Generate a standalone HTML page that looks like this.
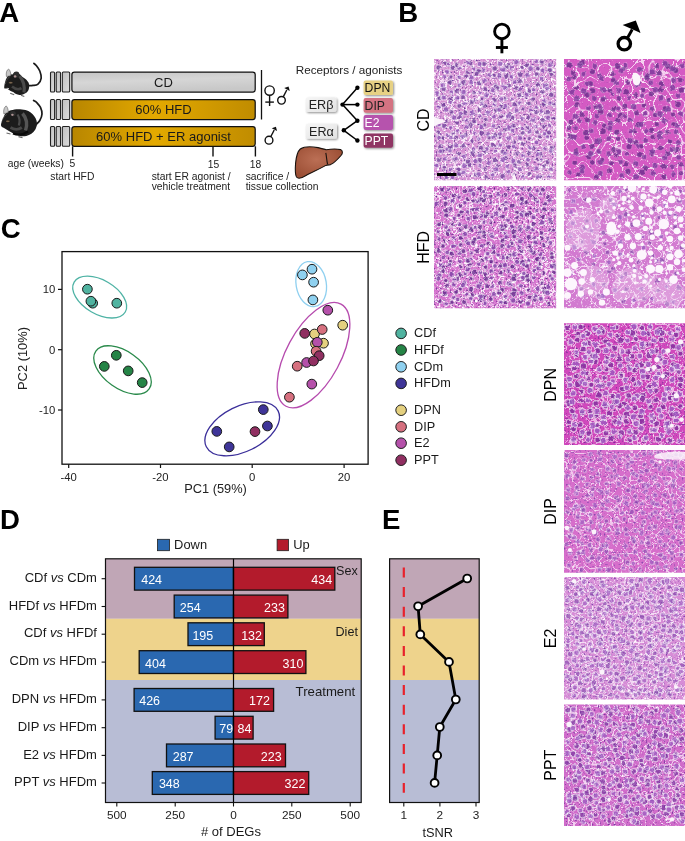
<!DOCTYPE html>
<html><head><meta charset="utf-8"><title>Figure</title>
<style>html,body{margin:0;padding:0;background:#fff;}svg{display:block;}text{font-family:"Liberation Sans",Arial,sans-serif;}</style>
</head><body>
<svg width="685" height="841" viewBox="0 0 685 841">
<defs>
<linearGradient id="gGold" x1="0" x2="1" y1="0" y2="0"><stop offset="0" stop-color="#b88600"/><stop offset="0.45" stop-color="#e3a900"/><stop offset="1" stop-color="#c08c00"/></linearGradient>
<linearGradient id="gGray" x1="0" x2="0.3" y1="0" y2="1"><stop offset="0" stop-color="#c4c4c4"/><stop offset="0.5" stop-color="#d6d6d6"/><stop offset="1" stop-color="#c8c8c8"/></linearGradient>
<linearGradient id="gGraySm" x1="0" x2="1" y1="0" y2="1"><stop offset="0" stop-color="#c0c0c0"/><stop offset="1" stop-color="#dcdcdc"/></linearGradient>
<radialGradient id="gLiver" cx="0.45" cy="0.4" r="0.6"><stop offset="0" stop-color="#bb6f55"/><stop offset="1" stop-color="#9c4f35"/></radialGradient>
<filter id="shadow" x="-20%" y="-20%" width="150%" height="160%"><feGaussianBlur in="SourceAlpha" stdDeviation="0.8"/><feOffset dx="0.8" dy="1.2" result="o"/><feComponentTransfer><feFuncA type="linear" slope="0.45"/></feComponentTransfer><feMerge><feMergeNode/><feMergeNode in="SourceGraphic"/></feMerge></filter>
<linearGradient id="gBox" x1="0" x2="1" y1="0" y2="1"><stop offset="0" stop-color="#f6f6f6"/><stop offset="1" stop-color="#e2e2e2"/></linearGradient>
<filter id="hCDf" x="0" y="0" width="1" height="1" color-interpolation-filters="sRGB"><feFlood flood-color="#d48ed2" result="bg"/><feTurbulence type="fractalNoise" baseFrequency="0.55" numOctaves="2" seed="6" result="f0"/><feColorMatrix in="f0" type="matrix" values="0 0 0 0 1 0 0 0 0 0.96 0 0 0 0 1 0 0 1.4 0 -0.7" result="ff"/><feTurbulence type="turbulence" baseFrequency="0.15" numOctaves="1" seed="14" result="m0"/><feColorMatrix in="m0" type="matrix" values="0 0 0 0 1 0 0 0 0 0.97 0 0 0 0 1 -12 0 0 0 0.8" result="mm"/><feTurbulence type="fractalNoise" baseFrequency="0.32" numOctaves="2" seed="10" result="w0"/><feColorMatrix in="w0" type="matrix" values="0 0 0 0 1.000 0 0 0 0 1.000 0 0 0 0 1.000 0 5 0 0 -2.9" result="ww"/><feTurbulence type="fractalNoise" baseFrequency="0.5" numOctaves="2" seed="3" result="n0"/><feColorMatrix in="n0" type="matrix" values="0 0 0 0 0.424 0 0 0 0 0.220 0 0 0 0 0.596 5 0 0 0 -3.0" result="nn"/><feMerge><feMergeNode in="bg"/><feMergeNode in="ff"/><feMergeNode in="mm"/><feMergeNode in="ww"/><feMergeNode in="nn"/></feMerge></filter><clipPath id="cCDf"><rect x="434" y="59" width="122.2" height="121.3"/></clipPath><filter id="nCDf" x="-5%" y="-5%" width="110%" height="110%"><feTurbulence type="fractalNoise" baseFrequency="0.4" numOctaves="1" seed="8" result="t"/><feDisplacementMap in="SourceGraphic" in2="t" scale="3.5" xChannelSelector="R" yChannelSelector="G"/></filter><filter id="hCDm" x="0" y="0" width="1" height="1" color-interpolation-filters="sRGB"><feFlood flood-color="#d45ac3" result="bg"/><feTurbulence type="fractalNoise" baseFrequency="0.55" numOctaves="2" seed="8" result="f0"/><feColorMatrix in="f0" type="matrix" values="0 0 0 0 1 0 0 0 0 0.96 0 0 0 0 1 0 0 1.0 0 -0.7" result="ff"/><feTurbulence type="turbulence" baseFrequency="0.09" numOctaves="1" seed="16" result="m0"/><feColorMatrix in="m0" type="matrix" values="0 0 0 0 1 0 0 0 0 0.97 0 0 0 0 1 -12 0 0 0 0.75" result="mm"/><feTurbulence type="fractalNoise" baseFrequency="0.32" numOctaves="2" seed="12" result="w0"/><feColorMatrix in="w0" type="matrix" values="0 0 0 0 1.000 0 0 0 0 1.000 0 0 0 0 1.000 0 5 0 0 -3.4" result="ww"/><feTurbulence type="fractalNoise" baseFrequency="0.5" numOctaves="2" seed="5" result="n0"/><feColorMatrix in="n0" type="matrix" values="0 0 0 0 0.416 0 0 0 0 0.165 0 0 0 0 0.549 4 0 0 0 -2.8" result="nn"/><feMerge><feMergeNode in="bg"/><feMergeNode in="ff"/><feMergeNode in="mm"/><feMergeNode in="ww"/><feMergeNode in="nn"/></feMerge></filter><clipPath id="cCDm"><rect x="564" y="59" width="121.0" height="121.3"/></clipPath><filter id="nCDm" x="-5%" y="-5%" width="110%" height="110%"><feTurbulence type="fractalNoise" baseFrequency="0.4" numOctaves="1" seed="10" result="t"/><feDisplacementMap in="SourceGraphic" in2="t" scale="3.5" xChannelSelector="R" yChannelSelector="G"/></filter><filter id="hHFDf" x="0" y="0" width="1" height="1" color-interpolation-filters="sRGB"><feFlood flood-color="#d472cd" result="bg"/><feTurbulence type="fractalNoise" baseFrequency="0.55" numOctaves="2" seed="10" result="f0"/><feColorMatrix in="f0" type="matrix" values="0 0 0 0 1 0 0 0 0 0.96 0 0 0 0 1 0 0 1.4 0 -0.7" result="ff"/><feTurbulence type="turbulence" baseFrequency="0.15" numOctaves="1" seed="18" result="m0"/><feColorMatrix in="m0" type="matrix" values="0 0 0 0 1 0 0 0 0 0.97 0 0 0 0 1 -12 0 0 0 0.8" result="mm"/><feTurbulence type="fractalNoise" baseFrequency="0.32" numOctaves="2" seed="14" result="w0"/><feColorMatrix in="w0" type="matrix" values="0 0 0 0 1.000 0 0 0 0 1.000 0 0 0 0 1.000 0 5 0 0 -2.9" result="ww"/><feTurbulence type="fractalNoise" baseFrequency="0.5" numOctaves="2" seed="7" result="n0"/><feColorMatrix in="n0" type="matrix" values="0 0 0 0 0.392 0 0 0 0 0.157 0 0 0 0 0.549 5 0 0 0 -3.0" result="nn"/><feMerge><feMergeNode in="bg"/><feMergeNode in="ff"/><feMergeNode in="mm"/><feMergeNode in="ww"/><feMergeNode in="nn"/></feMerge></filter><clipPath id="cHFDf"><rect x="434" y="186" width="122.2" height="122.2"/></clipPath><filter id="nHFDf" x="-5%" y="-5%" width="110%" height="110%"><feTurbulence type="fractalNoise" baseFrequency="0.4" numOctaves="1" seed="12" result="t"/><feDisplacementMap in="SourceGraphic" in2="t" scale="3.5" xChannelSelector="R" yChannelSelector="G"/></filter><filter id="hHFDm" x="0" y="0" width="1" height="1" color-interpolation-filters="sRGB"><feFlood flood-color="#d27ad0" result="bg"/><feTurbulence type="fractalNoise" baseFrequency="0.55" numOctaves="2" seed="12" result="f0"/><feColorMatrix in="f0" type="matrix" values="0 0 0 0 1 0 0 0 0 0.96 0 0 0 0 1 0 0 1.2 0 -0.7" result="ff"/><feTurbulence type="turbulence" baseFrequency="0.12" numOctaves="1" seed="20" result="m0"/><feColorMatrix in="m0" type="matrix" values="0 0 0 0 1 0 0 0 0 0.97 0 0 0 0 1 -10 0 0 0 0.7" result="mm"/><feTurbulence type="fractalNoise" baseFrequency="0.32" numOctaves="2" seed="16" result="w0"/><feColorMatrix in="w0" type="matrix" values="0 0 0 0 1.000 0 0 0 0 1.000 0 0 0 0 1.000 0 5 0 0 -3.0" result="ww"/><feTurbulence type="fractalNoise" baseFrequency="0.5" numOctaves="2" seed="9" result="n0"/><feColorMatrix in="n0" type="matrix" values="0 0 0 0 0.541 0 0 0 0 0.282 0 0 0 0 0.675 5 0 0 0 -99" result="nn"/><feMerge><feMergeNode in="bg"/><feMergeNode in="ff"/><feMergeNode in="mm"/><feMergeNode in="ww"/><feMergeNode in="nn"/></feMerge></filter><clipPath id="cHFDm"><rect x="564" y="186" width="121.0" height="122.2"/></clipPath><filter id="nHFDm" x="-5%" y="-5%" width="110%" height="110%"><feTurbulence type="fractalNoise" baseFrequency="0.4" numOctaves="1" seed="14" result="t"/><feDisplacementMap in="SourceGraphic" in2="t" scale="3.5" xChannelSelector="R" yChannelSelector="G"/></filter><filter id="hDPN" x="0" y="0" width="1" height="1" color-interpolation-filters="sRGB"><feFlood flood-color="#d048bc" result="bg"/><feTurbulence type="fractalNoise" baseFrequency="0.55" numOctaves="2" seed="14" result="f0"/><feColorMatrix in="f0" type="matrix" values="0 0 0 0 1 0 0 0 0 0.96 0 0 0 0 1 0 0 1.0 0 -0.7" result="ff"/><feTurbulence type="turbulence" baseFrequency="0.12" numOctaves="1" seed="22" result="m0"/><feColorMatrix in="m0" type="matrix" values="0 0 0 0 1 0 0 0 0 0.97 0 0 0 0 1 -10 0 0 0 0.6" result="mm"/><feTurbulence type="fractalNoise" baseFrequency="0.32" numOctaves="2" seed="18" result="w0"/><feColorMatrix in="w0" type="matrix" values="0 0 0 0 1.000 0 0 0 0 1.000 0 0 0 0 1.000 0 5 0 0 -3.3" result="ww"/><feTurbulence type="fractalNoise" baseFrequency="0.5" numOctaves="2" seed="11" result="n0"/><feColorMatrix in="n0" type="matrix" values="0 0 0 0 0.486 0 0 0 0 0.180 0 0 0 0 0.612 5 0 0 0 -3.0" result="nn"/><feMerge><feMergeNode in="bg"/><feMergeNode in="ff"/><feMergeNode in="mm"/><feMergeNode in="ww"/><feMergeNode in="nn"/></feMerge></filter><clipPath id="cDPN"><rect x="564" y="323.3" width="121.0" height="121.8"/></clipPath><filter id="nDPN" x="-5%" y="-5%" width="110%" height="110%"><feTurbulence type="fractalNoise" baseFrequency="0.4" numOctaves="1" seed="16" result="t"/><feDisplacementMap in="SourceGraphic" in2="t" scale="3.5" xChannelSelector="R" yChannelSelector="G"/></filter><filter id="hDIP" x="0" y="0" width="1" height="1" color-interpolation-filters="sRGB"><feFlood flood-color="#d66ecb" result="bg"/><feTurbulence type="fractalNoise" baseFrequency="0.55" numOctaves="2" seed="16" result="f0"/><feColorMatrix in="f0" type="matrix" values="0 0 0 0 1 0 0 0 0 0.96 0 0 0 0 1 0 0 1.0 0 -0.7" result="ff"/><feTurbulence type="turbulence" baseFrequency="0.13" numOctaves="1" seed="24" result="m0"/><feColorMatrix in="m0" type="matrix" values="0 0 0 0 1 0 0 0 0 0.97 0 0 0 0 1 -10 0 0 0 0.65" result="mm"/><feTurbulence type="fractalNoise" baseFrequency="0.32" numOctaves="2" seed="20" result="w0"/><feColorMatrix in="w0" type="matrix" values="0 0 0 0 1.000 0 0 0 0 1.000 0 0 0 0 1.000 0 5 0 0 -3.4" result="ww"/><feTurbulence type="fractalNoise" baseFrequency="0.5" numOctaves="2" seed="13" result="n0"/><feColorMatrix in="n0" type="matrix" values="0 0 0 0 0.541 0 0 0 0 0.290 0 0 0 0 0.690 5 0 0 0 -3.0" result="nn"/><feMerge><feMergeNode in="bg"/><feMergeNode in="ff"/><feMergeNode in="mm"/><feMergeNode in="ww"/><feMergeNode in="nn"/></feMerge></filter><clipPath id="cDIP"><rect x="564" y="450" width="121.0" height="122.7"/></clipPath><filter id="nDIP" x="-5%" y="-5%" width="110%" height="110%"><feTurbulence type="fractalNoise" baseFrequency="0.4" numOctaves="1" seed="18" result="t"/><feDisplacementMap in="SourceGraphic" in2="t" scale="3.5" xChannelSelector="R" yChannelSelector="G"/></filter><filter id="hE2" x="0" y="0" width="1" height="1" color-interpolation-filters="sRGB"><feFlood flood-color="#d68cd6" result="bg"/><feTurbulence type="fractalNoise" baseFrequency="0.55" numOctaves="2" seed="18" result="f0"/><feColorMatrix in="f0" type="matrix" values="0 0 0 0 1 0 0 0 0 0.96 0 0 0 0 1 0 0 1.2 0 -0.7" result="ff"/><feTurbulence type="turbulence" baseFrequency="0.14" numOctaves="1" seed="26" result="m0"/><feColorMatrix in="m0" type="matrix" values="0 0 0 0 1 0 0 0 0 0.97 0 0 0 0 1 -11 0 0 0 0.7" result="mm"/><feTurbulence type="fractalNoise" baseFrequency="0.32" numOctaves="2" seed="22" result="w0"/><feColorMatrix in="w0" type="matrix" values="0 0 0 0 1.000 0 0 0 0 1.000 0 0 0 0 1.000 0 5 0 0 -3.1" result="ww"/><feTurbulence type="fractalNoise" baseFrequency="0.5" numOctaves="2" seed="15" result="n0"/><feColorMatrix in="n0" type="matrix" values="0 0 0 0 0.518 0 0 0 0 0.282 0 0 0 0 0.675 5 0 0 0 -3.0" result="nn"/><feMerge><feMergeNode in="bg"/><feMergeNode in="ff"/><feMergeNode in="mm"/><feMergeNode in="ww"/><feMergeNode in="nn"/></feMerge></filter><clipPath id="cE2"><rect x="564" y="577.1" width="121.0" height="122.5"/></clipPath><filter id="nE2" x="-5%" y="-5%" width="110%" height="110%"><feTurbulence type="fractalNoise" baseFrequency="0.4" numOctaves="1" seed="20" result="t"/><feDisplacementMap in="SourceGraphic" in2="t" scale="3.5" xChannelSelector="R" yChannelSelector="G"/></filter><filter id="hPPT" x="0" y="0" width="1" height="1" color-interpolation-filters="sRGB"><feFlood flood-color="#d06cca" result="bg"/><feTurbulence type="fractalNoise" baseFrequency="0.55" numOctaves="2" seed="20" result="f0"/><feColorMatrix in="f0" type="matrix" values="0 0 0 0 1 0 0 0 0 0.96 0 0 0 0 1 0 0 1.1 0 -0.7" result="ff"/><feTurbulence type="turbulence" baseFrequency="0.13" numOctaves="1" seed="28" result="m0"/><feColorMatrix in="m0" type="matrix" values="0 0 0 0 1 0 0 0 0 0.97 0 0 0 0 1 -11 0 0 0 0.7" result="mm"/><feTurbulence type="fractalNoise" baseFrequency="0.32" numOctaves="2" seed="24" result="w0"/><feColorMatrix in="w0" type="matrix" values="0 0 0 0 1.000 0 0 0 0 1.000 0 0 0 0 1.000 0 5 0 0 -3.2" result="ww"/><feTurbulence type="fractalNoise" baseFrequency="0.5" numOctaves="2" seed="17" result="n0"/><feColorMatrix in="n0" type="matrix" values="0 0 0 0 0.478 0 0 0 0 0.212 0 0 0 0 0.627 5 0 0 0 -3.0" result="nn"/><feMerge><feMergeNode in="bg"/><feMergeNode in="ff"/><feMergeNode in="mm"/><feMergeNode in="ww"/><feMergeNode in="nn"/></feMerge></filter><clipPath id="cPPT"><rect x="564" y="704.4" width="121.0" height="121.6"/></clipPath><filter id="nPPT" x="-5%" y="-5%" width="110%" height="110%"><feTurbulence type="fractalNoise" baseFrequency="0.4" numOctaves="1" seed="22" result="t"/><feDisplacementMap in="SourceGraphic" in2="t" scale="3.5" xChannelSelector="R" yChannelSelector="G"/></filter><filter id="foam" x="-20%" y="-20%" width="140%" height="140%"><feTurbulence type="fractalNoise" baseFrequency="0.08" numOctaves="2" seed="4" result="t"/><feDisplacementMap in="SourceGraphic" in2="t" scale="14" xChannelSelector="R" yChannelSelector="G"/></filter>
</defs>
<rect width="685" height="841" fill="#fff"/>
<text x="-0.8" y="21.9" font-size="27.6" text-anchor="start" fill="#000" font-weight="bold" >A</text>
<text x="398.2" y="21.9" font-size="27.6" text-anchor="start" fill="#000" font-weight="bold" >B</text>
<text x="0.7" y="237.9" font-size="27.6" text-anchor="start" fill="#000" font-weight="bold" >C</text>
<text x="0.1" y="528.9" font-size="27.6" text-anchor="start" fill="#000" font-weight="bold" >D</text>
<text x="381.9" y="528.9" font-size="27.6" text-anchor="start" fill="#000" font-weight="bold" >E</text>
<rect x="50.5" y="72" width="4.1" height="20" rx="1" fill="url(#gGraySm)" stroke="#222" stroke-width="1.1"/>
<rect x="56.2" y="72" width="4.3" height="20" rx="1" fill="url(#gGraySm)" stroke="#222" stroke-width="1.1"/>
<rect x="62.3" y="72" width="7.4" height="20" rx="1" fill="url(#gGraySm)" stroke="#222" stroke-width="1.1"/>
<rect x="71.9" y="72" width="183.3" height="20" rx="2.5" fill="url(#gGray)" stroke="#111" stroke-width="1.25"/>
<text x="163.5" y="86.6" font-size="13" text-anchor="middle" fill="#1a1a1a" >CD</text>
<rect x="50.5" y="99.5" width="4.1" height="20.0" rx="1" fill="url(#gGraySm)" stroke="#222" stroke-width="1.1"/>
<rect x="56.2" y="99.5" width="4.3" height="20.0" rx="1" fill="url(#gGraySm)" stroke="#222" stroke-width="1.1"/>
<rect x="62.3" y="99.5" width="7.4" height="20.0" rx="1" fill="url(#gGraySm)" stroke="#222" stroke-width="1.1"/>
<rect x="71.9" y="99.5" width="183.3" height="20.0" rx="2.5" fill="url(#gGold)" stroke="#111" stroke-width="1.25"/>
<text x="163.5" y="114.1" font-size="13" text-anchor="middle" fill="#1a1a1a" >60% HFD</text>
<rect x="50.5" y="126.5" width="4.1" height="19.80000000000001" rx="1" fill="url(#gGraySm)" stroke="#222" stroke-width="1.1"/>
<rect x="56.2" y="126.5" width="4.3" height="19.80000000000001" rx="1" fill="url(#gGraySm)" stroke="#222" stroke-width="1.1"/>
<rect x="62.3" y="126.5" width="7.4" height="19.80000000000001" rx="1" fill="url(#gGraySm)" stroke="#222" stroke-width="1.1"/>
<rect x="71.9" y="126.5" width="183.3" height="19.80000000000001" rx="2.5" fill="url(#gGold)" stroke="#111" stroke-width="1.25"/>
<text x="163.5" y="141.0" font-size="13" text-anchor="middle" fill="#1a1a1a" >60% HFD + ER agonist</text>
<line x1="72.6" y1="146.3" x2="72.6" y2="156.5" stroke="#111" stroke-width="1.4"/>
<line x1="213" y1="146.3" x2="213" y2="156.5" stroke="#111" stroke-width="1.4"/>
<line x1="255.4" y1="146.3" x2="255.4" y2="156.5" stroke="#111" stroke-width="1.4"/>
<text x="7.8" y="167.2" font-size="10.3" text-anchor="start" fill="#222" >age (weeks)</text>
<text x="72.4" y="167.2" font-size="10.3" text-anchor="middle" fill="#222" >5</text>
<text x="50.3" y="179.9" font-size="10.3" text-anchor="start" fill="#222" >start HFD</text>
<text x="213.6" y="168.3" font-size="10.3" text-anchor="middle" fill="#222" >15</text>
<text x="255.6" y="168.3" font-size="10.3" text-anchor="middle" fill="#222" >18</text>
<text x="151.7" y="180.0" font-size="10.3" text-anchor="start" fill="#222" >start ER agonist /</text>
<text x="151.7" y="190.2" font-size="10.3" text-anchor="start" fill="#222" >vehicle treatment</text>
<text x="245.7" y="180.0" font-size="10.3" text-anchor="start" fill="#222" >sacrifice /</text>
<text x="245.7" y="190.2" font-size="10.3" text-anchor="start" fill="#222" >tissue collection</text>
<line x1="261.5" y1="70" x2="261.5" y2="119.5" stroke="#111" stroke-width="1.3"/>
<circle cx="269.6" cy="90.6" r="4.7" fill="none" stroke="#111" stroke-width="1.4"/>
<line x1="269.6" y1="95.3" x2="269.6" y2="106" stroke="#111" stroke-width="1.4"/>
<line x1="265.3" y1="102.1" x2="273.90000000000003" y2="102.1" stroke="#111" stroke-width="1.4"/>
<circle cx="281.5" cy="100.3" r="3.8" fill="none" stroke="#111" stroke-width="1.4"/>
<line x1="283.23" y1="96.91" x2="286.77" y2="89.96" stroke="#111" stroke-width="1.4"/>
<polygon points="288.58,86.40 289.76,90.93 284.23,88.11" fill="#111"/>
<circle cx="269" cy="140.2" r="3.9" fill="none" stroke="#111" stroke-width="1.4"/>
<line x1="270.77" y1="136.73" x2="274.18" y2="130.04" stroke="#111" stroke-width="1.4"/>
<polygon points="275.90,126.66 277.08,130.96 271.73,128.24" fill="#111"/>
<text x="295.8" y="73.9" font-size="11.7" text-anchor="start" fill="#222" >Receptors / agonists</text>
<rect x="305.8" y="97.6" width="30.599999999999966" height="14.400000000000006" rx="2" fill="url(#gBox)" filter="url(#shadow)"/>
<text x="321.1" y="109.2" font-size="12.6" text-anchor="middle" fill="#222" >ERβ</text>
<rect x="305.8" y="123.8" width="31.19999999999999" height="14.899999999999991" rx="2" fill="url(#gBox)" filter="url(#shadow)"/>
<text x="321.4" y="135.65" font-size="12.6" text-anchor="middle" fill="#222" >ERα</text>
<rect x="363.6" y="80.4" width="29.399999999999977" height="14.5" rx="2" fill="#e7d184" filter="url(#shadow)"/>
<text x="364.6" y="92.05000000000001" font-size="12.2" text-anchor="start" fill="#111" >DPN</text>
<rect x="363.6" y="97.9" width="29.399999999999977" height="14.899999999999991" rx="2" fill="#d47382" filter="url(#shadow)"/>
<text x="364.6" y="109.75" font-size="12.2" text-anchor="start" fill="#222" >DIP</text>
<rect x="363.6" y="115" width="29.399999999999977" height="15" rx="2" fill="#b652ad" filter="url(#shadow)"/>
<text x="364.6" y="126.9" font-size="12.2" text-anchor="start" fill="#fff" >E2</text>
<rect x="363.6" y="133.5" width="29.399999999999977" height="14.300000000000011" rx="2" fill="#8f3464" filter="url(#shadow)"/>
<text x="364.6" y="145.05" font-size="12.2" text-anchor="start" fill="#fff" >PPT</text>
<line x1="342.5" y1="104.6" x2="357.4" y2="87.8" stroke="#000" stroke-width="1.5"/>
<line x1="342.5" y1="104.6" x2="357.4" y2="104.6" stroke="#000" stroke-width="1.5"/>
<line x1="342.5" y1="104.6" x2="357.4" y2="120.7" stroke="#000" stroke-width="1.5"/>
<line x1="343.8" y1="130.3" x2="357.4" y2="120.7" stroke="#000" stroke-width="1.5"/>
<line x1="343.8" y1="130.3" x2="357.4" y2="140.5" stroke="#000" stroke-width="1.5"/>
<circle cx="342.5" cy="104.6" r="2.2" fill="#000"/>
<circle cx="343.8" cy="130.3" r="2.2" fill="#000"/>
<circle cx="357.4" cy="87.8" r="2.2" fill="#000"/>
<circle cx="357.4" cy="104.6" r="2.2" fill="#000"/>
<circle cx="357.4" cy="120.7" r="2.2" fill="#000"/>
<circle cx="357.4" cy="140.5" r="2.2" fill="#000"/>
<path d="M300.3,149 C304,146.5 312,146.5 318,147.6 C322,148.4 324,149.2 326,149.7 C331,149 337,148.8 340.5,149.6 C343,150.6 342.8,153.5 341,155.5 C338,159 334,163 330.5,164.6 C328,165.3 326.8,165 325.8,165.4 C320,169 312,172 306,175.5 C302,178 298.5,179.5 296.5,177 C294.8,174 295.2,168 295.6,163 C296.2,157 297.5,151.5 300.3,149 Z" fill="url(#gLiver)" stroke="#1a120e" stroke-width="1.1"/>
<path d="M325.8,152.8 C326.6,156.5 326.6,160.5 327.6,164.3" fill="none" stroke="#1a120e" stroke-width="1.1"/>
<path d="M28.5,85.6 C29.2,85.6 31.4,85.7 33.0,85.4 C34.6,85.2 36.6,85.3 38.0,84.1 C39.4,82.9 40.9,80.4 41.2,78.2 C41.5,76.0 40.6,73.1 39.8,71.0 C39.0,68.9 37.5,67.1 36.5,65.8 C35.5,64.5 34.3,63.7 33.9,63.3 " fill="none" stroke="#1a1a1a" stroke-width="1.7" stroke-linecap="round"/><path d="M4.2,87.4 C4.2,86.3 4.6,83.6 5.1,81.9 C5.5,80.2 6.2,78.7 6.9,77.5 C7.6,76.3 8.5,75.5 9.5,75.0 C10.5,74.5 12.0,74.6 12.8,74.2 C13.7,73.8 13.4,72.4 14.6,72.4 C15.8,72.4 18.5,73.5 19.7,74.2 C20.9,74.9 20.9,75.6 21.9,76.4 C22.9,77.2 24.4,78.0 25.5,79.0 C26.6,80.0 27.9,81.4 28.5,82.6 C29.1,83.8 29.2,85.1 29.2,86.3 C29.2,87.5 29.0,88.8 28.5,89.9 C28.0,91.0 27.2,92.1 26.3,92.8 C25.4,93.5 24.4,93.9 23.4,94.3 C22.4,94.7 21.5,95.0 20.4,95.0 C19.3,95.0 17.8,94.6 16.8,94.3 C15.8,94.0 15.2,93.6 14.6,93.2 C14.0,92.8 13.8,92.5 13.1,92.1 C12.4,91.7 11.2,91.2 10.2,90.7 C9.2,90.2 8.2,89.2 7.3,88.8 C6.5,88.4 5.6,88.7 5.1,88.5 C4.6,88.3 4.2,88.5 4.2,87.4 Z" fill="#1c1c1c"/><path d="M6.4,76.5 C5.8,73 6.6,70 8.6,69 C10.2,70.2 11,73.5 10.8,75.8 Z" fill="#c8c8c8" stroke="#444" stroke-width="0.5"/><path d="M19.5,76 C23,80 25,86 24,92.5" fill="none" stroke="#4a4a4a" stroke-width="3.2"/><path d="M12,86.5 C15.5,89.5 18.5,90 21.5,88.2" fill="none" stroke="#444" stroke-width="2.6"/><ellipse cx="16.4" cy="74.6" rx="3.0" ry="3.2" fill="#2e2e2e"/><ellipse cx="15.1" cy="76.4" rx="1.3" ry="1.2" fill="#b09494"/><ellipse cx="10.7" cy="82.8" rx="2.1" ry="1.0" fill="#857058" stroke="#000" stroke-width="0.3"/><path d="M5.2,84 C6,81 7.5,78.5 9.8,76.5" fill="none" stroke="#888" stroke-width="0.6" stroke-dasharray="0.8 0.6"/><path d="M6.8,88.3 L9,88.6" stroke="#d8d8d8" stroke-width="0.9"/><path d="M10.2,93.2 L14.2,94.8 M21,95.2 L24.3,96.5" stroke="#6a6a6a" stroke-width="1.2"/>
<path d="M36.2,124.5 C36.8,123.8 38.8,122.2 39.8,120.5 C40.8,118.8 41.9,116.2 42.0,114.0 C42.1,111.8 41.4,109.4 40.5,107.4 C39.6,105.5 37.6,103.5 36.5,102.3 C35.4,101.1 34.1,100.8 33.6,100.5 " fill="none" stroke="#1a1a1a" stroke-width="1.7" stroke-linecap="round"/><path d="M1.1,125.7 C0.8,124.6 1.4,122.8 1.8,121.3 C2.2,119.8 2.9,118.2 3.6,116.9 C4.3,115.6 4.6,114.3 5.8,113.2 C7.0,112.1 8.8,111.0 10.9,110.3 C13.0,109.6 15.8,109.2 18.2,109.2 C20.6,109.2 23.4,109.5 25.5,110.0 C27.6,110.5 29.2,111.5 30.7,112.5 C32.2,113.5 33.3,114.9 34.3,116.2 C35.3,117.5 36.1,119.0 36.5,120.5 C36.9,122.0 37.1,123.3 36.9,124.9 C36.6,126.5 35.9,128.5 35.0,130.0 C34.1,131.5 32.9,132.7 31.4,133.7 C29.9,134.7 28.0,135.5 26.3,135.9 C24.6,136.3 22.8,136.4 21.2,136.2 C19.6,136.0 18.3,135.3 16.8,134.8 C15.3,134.3 14.0,133.8 12.4,133.0 C10.8,132.2 8.8,130.9 7.3,130.0 C5.8,129.1 4.6,128.5 3.6,127.8 C2.6,127.1 1.4,126.8 1.1,125.7 Z" fill="#1c1c1c"/><path d="M3.8,113.8 C3.2,110 4.2,107 6.2,105.9 C7.8,107.3 8.5,110.5 8.2,112.6 Z" fill="#c8c8c8" stroke="#444" stroke-width="0.5"/><path d="M22.5,113.5 C26.5,118 27.5,124.5 25.5,130.5" fill="none" stroke="#555" stroke-width="3.4"/><path d="M17.5,114.5 C19.8,118 20,122 18.8,125.5" fill="none" stroke="#4a4a4a" stroke-width="2.2"/><path d="M10.5,127.5 C14.5,130 18.5,129.8 21.8,127.5" fill="none" stroke="#484848" stroke-width="2.8"/><path d="M28,131.5 C24,134.5 18,135.5 13,133.5" fill="none" stroke="#0a0a0a" stroke-width="2.2"/><ellipse cx="13" cy="113.6" rx="2.8" ry="2.6" fill="#2e2e2e"/><ellipse cx="12.4" cy="114.8" rx="1.3" ry="1.1" fill="#b09494"/><ellipse cx="7.8" cy="121.3" rx="2.0" ry="0.95" fill="#857058" stroke="#000" stroke-width="0.3"/><path d="M1.8,121.5 C2.8,118.5 4.5,116 7,114.3" fill="none" stroke="#888" stroke-width="0.6" stroke-dasharray="0.8 0.6"/><path d="M6.5,133 L10.5,134 M18.5,136.7 L22.5,137.7" stroke="#6a6a6a" stroke-width="1.2"/>
<circle cx="501.9" cy="31.4" r="7.3" fill="none" stroke="#000" stroke-width="2.9"/>
<line x1="501.9" y1="38.699999999999996" x2="501.9" y2="53.3" stroke="#000" stroke-width="2.9"/>
<line x1="495.9" y1="47.5" x2="507.9" y2="47.5" stroke="#000" stroke-width="2.9"/>
<circle cx="624.3" cy="43.7" r="6.2" fill="none" stroke="#000" stroke-width="3.3"/>
<line x1="627.3" y1="38.2" x2="632.2" y2="29.5" stroke="#000" stroke-width="2.9"/>
<polygon points="622.6,25 635.8,20.4 640.6,32.9" fill="#000"/>
<g clip-path="url(#cCDf)">
<rect x="434" y="59" width="122.2" height="121.3" filter="url(#hCDf)"/>
<g fill="#6c3898" fill-opacity="0.75" stroke="#fff" stroke-opacity="0.45" stroke-width="1.1" filter="url(#nCDf)"><circle cx="445.1" cy="63.2" r="2.0"/><circle cx="456.9" cy="65.4" r="2.3"/><circle cx="470.4" cy="63.3" r="2.5"/><circle cx="483.9" cy="64.0" r="2.4"/><circle cx="508.8" cy="65.0" r="2.2"/><circle cx="526.8" cy="65.2" r="2.3"/><circle cx="541.8" cy="61.6" r="2.4"/><circle cx="438.5" cy="67.5" r="2.5"/><circle cx="452.8" cy="67.8" r="2.5"/><circle cx="467.6" cy="72.4" r="2.1"/><circle cx="478.3" cy="71.1" r="2.5"/><circle cx="494.8" cy="68.5" r="2.5"/><circle cx="506.4" cy="67.0" r="2.4"/><circle cx="522.1" cy="67.5" r="2.0"/><circle cx="537.8" cy="68.8" r="2.3"/><circle cx="549.8" cy="70.2" r="2.6"/><circle cx="451.0" cy="77.0" r="2.0"/><circle cx="466.2" cy="76.3" r="2.4"/><circle cx="476.7" cy="73.9" r="2.4"/><circle cx="494.0" cy="75.4" r="2.2"/><circle cx="506.3" cy="75.8" r="2.5"/><circle cx="520.4" cy="74.9" r="2.5"/><circle cx="536.7" cy="74.2" r="2.2"/><circle cx="551.6" cy="74.6" r="2.2"/><circle cx="449.6" cy="82.2" r="2.5"/><circle cx="463.3" cy="82.3" r="2.5"/><circle cx="479.0" cy="83.0" r="2.6"/><circle cx="495.7" cy="86.4" r="2.3"/><circle cx="508.9" cy="85.5" r="2.4"/><circle cx="519.9" cy="81.0" r="2.4"/><circle cx="537.9" cy="84.6" r="2.6"/><circle cx="546.6" cy="84.9" r="2.1"/><circle cx="443.6" cy="89.0" r="2.5"/><circle cx="456.7" cy="90.7" r="2.5"/><circle cx="474.3" cy="92.4" r="2.0"/><circle cx="485.2" cy="89.1" r="2.3"/><circle cx="497.6" cy="87.9" r="2.1"/><circle cx="516.6" cy="88.1" r="2.3"/><circle cx="529.4" cy="91.0" r="2.2"/><circle cx="542.8" cy="91.8" r="2.2"/><circle cx="439.3" cy="98.2" r="2.3"/><circle cx="451.0" cy="98.6" r="2.3"/><circle cx="463.0" cy="97.1" r="2.3"/><circle cx="481.8" cy="99.2" r="2.2"/><circle cx="494.5" cy="99.8" r="2.5"/><circle cx="505.2" cy="98.0" r="2.0"/><circle cx="519.1" cy="95.1" r="2.5"/><circle cx="533.3" cy="99.5" r="2.4"/><circle cx="551.3" cy="94.8" r="2.5"/><circle cx="443.5" cy="104.9" r="2.5"/><circle cx="459.2" cy="106.0" r="2.2"/><circle cx="472.0" cy="102.0" r="2.3"/><circle cx="484.5" cy="105.6" r="2.5"/><circle cx="501.3" cy="106.8" r="2.1"/><circle cx="514.6" cy="104.2" r="2.4"/><circle cx="529.0" cy="103.4" r="2.1"/><circle cx="543.7" cy="104.0" r="2.5"/><circle cx="553.7" cy="104.4" r="2.2"/><circle cx="451.4" cy="112.1" r="2.3"/><circle cx="465.4" cy="112.8" r="2.5"/><circle cx="479.3" cy="109.9" r="2.1"/><circle cx="495.6" cy="110.0" r="2.1"/><circle cx="509.6" cy="113.9" r="2.2"/><circle cx="522.8" cy="109.1" r="2.1"/><circle cx="536.0" cy="112.5" r="2.0"/><circle cx="547.8" cy="112.0" r="2.6"/><circle cx="446.8" cy="120.9" r="2.1"/><circle cx="460.0" cy="117.3" r="2.4"/><circle cx="474.0" cy="121.2" r="2.4"/><circle cx="485.6" cy="119.8" r="2.4"/><circle cx="501.3" cy="116.6" r="2.5"/><circle cx="512.4" cy="117.5" r="2.4"/><circle cx="528.3" cy="117.4" r="2.1"/><circle cx="542.8" cy="119.9" r="2.2"/><circle cx="553.8" cy="118.5" r="2.1"/><circle cx="443.9" cy="125.7" r="2.5"/><circle cx="457.2" cy="123.1" r="2.1"/><circle cx="470.7" cy="125.0" r="2.4"/><circle cx="484.4" cy="124.9" r="2.1"/><circle cx="499.0" cy="127.2" r="2.0"/><circle cx="513.8" cy="125.8" r="2.3"/><circle cx="527.3" cy="127.6" r="2.3"/><circle cx="544.1" cy="126.5" r="2.3"/><circle cx="438.4" cy="132.2" r="2.3"/><circle cx="453.2" cy="133.2" r="2.0"/><circle cx="465.7" cy="135.0" r="2.2"/><circle cx="481.6" cy="133.1" r="2.6"/><circle cx="495.3" cy="135.0" r="2.5"/><circle cx="505.2" cy="129.8" r="2.0"/><circle cx="522.7" cy="132.7" r="2.3"/><circle cx="537.0" cy="131.9" r="2.1"/><circle cx="548.7" cy="132.7" r="2.4"/><circle cx="442.7" cy="137.8" r="2.1"/><circle cx="456.2" cy="137.5" r="2.3"/><circle cx="472.0" cy="140.7" r="2.0"/><circle cx="489.2" cy="137.8" r="2.1"/><circle cx="499.6" cy="137.3" r="2.0"/><circle cx="514.3" cy="142.0" r="2.2"/><circle cx="529.3" cy="138.6" r="2.1"/><circle cx="539.6" cy="136.7" r="2.1"/><circle cx="440.3" cy="146.4" r="2.5"/><circle cx="450.4" cy="147.1" r="2.6"/><circle cx="463.2" cy="145.9" r="2.2"/><circle cx="480.9" cy="147.9" r="2.5"/><circle cx="493.0" cy="144.9" r="2.5"/><circle cx="508.8" cy="147.1" r="2.4"/><circle cx="522.7" cy="143.7" r="2.3"/><circle cx="534.0" cy="148.5" r="2.4"/><circle cx="551.8" cy="147.9" r="2.2"/><circle cx="442.2" cy="151.0" r="2.4"/><circle cx="459.3" cy="154.0" r="2.0"/><circle cx="472.9" cy="153.0" r="2.5"/><circle cx="484.7" cy="151.6" r="2.0"/><circle cx="503.2" cy="151.7" r="2.5"/><circle cx="516.4" cy="154.2" r="2.4"/><circle cx="529.1" cy="153.2" r="2.1"/><circle cx="540.8" cy="153.7" r="2.3"/><circle cx="438.9" cy="160.0" r="2.4"/><circle cx="454.4" cy="159.5" r="2.3"/><circle cx="468.0" cy="161.8" r="2.5"/><circle cx="479.7" cy="160.0" r="2.6"/><circle cx="495.1" cy="160.0" r="2.6"/><circle cx="505.6" cy="158.1" r="2.4"/><circle cx="518.8" cy="161.9" r="2.2"/><circle cx="537.0" cy="159.2" r="2.1"/><circle cx="547.5" cy="162.0" r="2.4"/><circle cx="444.3" cy="167.7" r="2.3"/><circle cx="458.3" cy="169.8" r="2.5"/><circle cx="469.6" cy="165.3" r="2.3"/><circle cx="484.8" cy="169.1" r="2.3"/><circle cx="497.8" cy="165.6" r="2.0"/><circle cx="514.8" cy="165.1" r="2.2"/><circle cx="527.1" cy="164.8" r="2.3"/><circle cx="544.3" cy="166.0" r="2.1"/><circle cx="446.8" cy="176.9" r="2.3"/><circle cx="459.1" cy="174.0" r="2.3"/><circle cx="475.4" cy="174.8" r="2.2"/><circle cx="486.2" cy="177.2" r="2.1"/><circle cx="502.6" cy="176.4" r="2.6"/><circle cx="514.8" cy="174.4" r="2.2"/><circle cx="529.5" cy="173.7" r="2.3"/><circle cx="540.7" cy="177.0" r="2.1"/><g fill="#8a50b4"><circle cx="448.6" cy="64.5" r="2.2"/><circle cx="467.5" cy="62.4" r="2.4"/><circle cx="479.6" cy="63.9" r="2.4"/><circle cx="500.3" cy="63.8" r="2.5"/><circle cx="516.3" cy="62.2" r="2.6"/><circle cx="536.2" cy="61.3" r="2.3"/><circle cx="550.0" cy="64.9" r="2.4"/><circle cx="447.2" cy="71.9" r="2.3"/><circle cx="458.9" cy="68.2" r="2.0"/><circle cx="474.3" cy="69.0" r="2.1"/><circle cx="483.8" cy="70.2" r="2.0"/><circle cx="503.3" cy="69.5" r="2.6"/><circle cx="511.7" cy="67.7" r="2.2"/><circle cx="530.7" cy="68.4" r="2.6"/><circle cx="542.6" cy="70.3" r="2.4"/><circle cx="444.6" cy="76.8" r="2.0"/><circle cx="459.2" cy="77.3" r="2.0"/><circle cx="471.6" cy="77.7" r="2.4"/><circle cx="489.2" cy="75.0" r="2.3"/><circle cx="499.4" cy="75.7" r="2.4"/><circle cx="511.7" cy="76.9" r="2.4"/><circle cx="527.0" cy="74.7" r="2.3"/><circle cx="541.5" cy="78.5" r="2.3"/><circle cx="442.7" cy="85.3" r="2.5"/><circle cx="459.3" cy="85.3" r="2.2"/><circle cx="471.2" cy="82.6" r="2.3"/><circle cx="484.5" cy="80.6" r="2.6"/><circle cx="503.1" cy="86.0" r="2.1"/><circle cx="514.6" cy="82.3" r="2.2"/><circle cx="527.2" cy="85.3" r="2.0"/><circle cx="544.8" cy="85.9" r="2.3"/><circle cx="437.0" cy="93.1" r="2.4"/><circle cx="451.4" cy="92.2" r="2.2"/><circle cx="463.6" cy="92.2" r="2.6"/><circle cx="480.3" cy="92.6" r="2.0"/><circle cx="493.0" cy="90.3" r="2.5"/><circle cx="505.3" cy="88.0" r="2.6"/><circle cx="520.4" cy="89.4" r="2.2"/><circle cx="533.7" cy="89.5" r="2.1"/><circle cx="547.0" cy="88.6" r="2.2"/><circle cx="443.7" cy="97.5" r="2.4"/><circle cx="457.0" cy="97.7" r="2.4"/><circle cx="474.7" cy="100.1" r="2.2"/><circle cx="486.3" cy="95.3" r="2.5"/><circle cx="501.5" cy="98.9" r="2.3"/><circle cx="512.4" cy="99.1" r="2.0"/><circle cx="526.6" cy="94.7" r="2.5"/><circle cx="544.5" cy="100.2" r="2.3"/><circle cx="439.0" cy="107.1" r="2.0"/><circle cx="450.0" cy="102.6" r="2.1"/><circle cx="464.7" cy="103.9" r="2.2"/><circle cx="482.3" cy="104.0" r="2.4"/><circle cx="494.5" cy="104.6" r="2.3"/><circle cx="505.1" cy="106.0" r="2.5"/><circle cx="519.7" cy="103.1" r="2.1"/><circle cx="536.6" cy="107.2" r="2.2"/><circle cx="550.0" cy="103.1" r="2.1"/><circle cx="446.1" cy="109.4" r="2.6"/><circle cx="460.5" cy="113.4" r="2.3"/><circle cx="471.9" cy="112.9" r="2.6"/><circle cx="487.8" cy="112.5" r="2.6"/><circle cx="499.1" cy="109.7" r="2.4"/><circle cx="516.6" cy="110.4" r="2.3"/><circle cx="530.5" cy="110.3" r="2.2"/><circle cx="541.5" cy="111.1" r="2.3"/><circle cx="436.2" cy="119.5" r="2.1"/><circle cx="454.1" cy="117.8" r="2.5"/><circle cx="466.4" cy="120.3" r="2.2"/><circle cx="479.7" cy="116.2" r="2.3"/><circle cx="493.9" cy="116.6" r="2.4"/><circle cx="508.4" cy="116.3" r="2.6"/><circle cx="522.1" cy="118.8" r="2.4"/><circle cx="533.0" cy="119.8" r="2.5"/><circle cx="548.1" cy="117.8" r="2.5"/><circle cx="439.1" cy="124.6" r="2.2"/><circle cx="450.6" cy="127.5" r="2.1"/><circle cx="467.1" cy="126.8" r="2.1"/><circle cx="481.4" cy="127.0" r="2.4"/><circle cx="493.7" cy="125.9" r="2.1"/><circle cx="509.3" cy="127.8" r="2.6"/><circle cx="522.3" cy="128.3" r="2.4"/><circle cx="536.1" cy="126.8" r="2.0"/><circle cx="549.6" cy="125.3" r="2.1"/><circle cx="447.2" cy="134.8" r="2.1"/><circle cx="457.7" cy="130.9" r="2.0"/><circle cx="474.7" cy="133.6" r="2.1"/><circle cx="487.8" cy="133.9" r="2.2"/><circle cx="500.1" cy="134.0" r="2.3"/><circle cx="512.7" cy="130.5" r="2.3"/><circle cx="529.4" cy="131.4" r="2.3"/><circle cx="544.8" cy="133.8" r="2.2"/><circle cx="439.2" cy="137.4" r="2.3"/><circle cx="450.9" cy="137.5" r="2.0"/><circle cx="462.9" cy="136.7" r="2.3"/><circle cx="478.9" cy="138.9" r="2.0"/><circle cx="493.4" cy="137.5" r="2.4"/><circle cx="508.8" cy="138.2" r="2.5"/><circle cx="520.0" cy="138.1" r="2.5"/><circle cx="536.6" cy="142.3" r="2.4"/><circle cx="547.6" cy="136.8" r="2.0"/><circle cx="447.0" cy="149.1" r="2.0"/><circle cx="456.1" cy="145.3" r="2.5"/><circle cx="473.6" cy="149.0" r="2.1"/><circle cx="486.8" cy="149.0" r="2.2"/><circle cx="500.4" cy="145.1" r="2.1"/><circle cx="513.8" cy="146.4" r="2.1"/><circle cx="530.0" cy="147.5" r="2.1"/><circle cx="544.7" cy="148.7" r="2.3"/><circle cx="440.2" cy="151.2" r="2.3"/><circle cx="450.0" cy="150.8" r="2.1"/><circle cx="463.9" cy="156.2" r="2.1"/><circle cx="480.1" cy="155.2" r="2.3"/><circle cx="495.4" cy="151.2" r="2.0"/><circle cx="505.1" cy="153.3" r="2.1"/><circle cx="523.0" cy="155.7" r="2.2"/><circle cx="537.5" cy="154.1" r="2.5"/><circle cx="550.8" cy="151.0" r="2.2"/><circle cx="445.1" cy="158.8" r="2.2"/><circle cx="456.1" cy="158.8" r="2.1"/><circle cx="475.4" cy="161.2" r="2.6"/><circle cx="488.9" cy="163.1" r="2.3"/><circle cx="503.0" cy="159.3" r="2.6"/><circle cx="513.3" cy="160.6" r="2.4"/><circle cx="528.1" cy="159.6" r="2.4"/><circle cx="541.3" cy="160.0" r="2.0"/><circle cx="436.8" cy="165.5" r="2.2"/><circle cx="450.7" cy="169.6" r="2.2"/><circle cx="464.3" cy="166.0" r="2.5"/><circle cx="479.7" cy="165.5" r="2.0"/><circle cx="496.3" cy="169.2" r="2.6"/><circle cx="507.1" cy="166.5" r="2.0"/><circle cx="520.0" cy="169.3" r="2.3"/><circle cx="536.2" cy="168.5" r="2.5"/><circle cx="551.0" cy="169.2" r="2.3"/><circle cx="452.5" cy="177.0" r="2.5"/><circle cx="463.6" cy="172.6" r="2.4"/><circle cx="478.6" cy="174.2" r="2.5"/><circle cx="492.4" cy="174.6" r="2.2"/><circle cx="508.2" cy="171.7" r="2.3"/><circle cx="522.7" cy="176.9" r="2.1"/><circle cx="537.8" cy="177.2" r="2.4"/><circle cx="548.8" cy="176.4" r="2.2"/></g></g>
</g>
<g clip-path="url(#cCDm)">
<rect x="564" y="59" width="121.0" height="121.3" filter="url(#hCDm)"/>
<g fill="#6a2a8c" fill-opacity="0.8" stroke="#fff" stroke-opacity="0.18" stroke-width="1.1" filter="url(#nCDm)"><circle cx="569.1" cy="65.0" r="2.9"/><circle cx="581.9" cy="63.0" r="3.0"/><circle cx="617.7" cy="66.2" r="2.8"/><circle cx="656.7" cy="65.9" r="2.5"/><circle cx="668.1" cy="66.4" r="2.8"/><circle cx="573.2" cy="73.0" r="2.5"/><circle cx="592.4" cy="71.6" r="2.8"/><circle cx="612.5" cy="74.2" r="2.3"/><circle cx="624.2" cy="68.5" r="2.4"/><circle cx="647.8" cy="74.9" r="2.5"/><circle cx="659.0" cy="73.5" r="2.9"/><circle cx="675.8" cy="70.6" r="2.7"/><circle cx="574.4" cy="77.2" r="2.4"/><circle cx="590.5" cy="83.7" r="2.7"/><circle cx="613.1" cy="79.9" r="2.6"/><circle cx="627.7" cy="82.7" r="2.4"/><circle cx="646.8" cy="77.4" r="2.6"/><circle cx="661.4" cy="83.8" r="2.9"/><circle cx="680.4" cy="80.1" r="2.5"/><circle cx="576.7" cy="87.6" r="2.4"/><circle cx="592.8" cy="90.8" r="2.8"/><circle cx="609.8" cy="90.2" r="2.5"/><circle cx="626.3" cy="91.9" r="2.8"/><circle cx="643.0" cy="90.0" r="2.6"/><circle cx="660.7" cy="89.8" r="2.8"/><circle cx="681.4" cy="90.1" r="3.0"/><circle cx="586.9" cy="94.9" r="2.8"/><circle cx="603.1" cy="99.2" r="2.7"/><circle cx="618.8" cy="98.3" r="2.5"/><circle cx="636.0" cy="95.3" r="2.3"/><circle cx="651.1" cy="93.9" r="2.6"/><circle cx="668.4" cy="100.1" r="2.3"/><circle cx="577.1" cy="104.6" r="2.7"/><circle cx="596.0" cy="106.8" r="2.6"/><circle cx="614.0" cy="109.1" r="2.7"/><circle cx="625.0" cy="106.2" r="2.7"/><circle cx="643.9" cy="105.3" r="2.5"/><circle cx="665.0" cy="108.7" r="2.7"/><circle cx="678.1" cy="104.5" r="3.0"/><circle cx="581.8" cy="114.5" r="2.5"/><circle cx="600.6" cy="111.8" r="3.0"/><circle cx="620.3" cy="115.0" r="2.8"/><circle cx="636.5" cy="113.1" r="2.5"/><circle cx="655.0" cy="114.9" r="2.3"/><circle cx="673.0" cy="114.6" r="2.3"/><circle cx="571.2" cy="121.9" r="2.6"/><circle cx="587.6" cy="119.7" r="2.9"/><circle cx="604.3" cy="125.7" r="2.4"/><circle cx="618.0" cy="120.3" r="2.7"/><circle cx="638.5" cy="124.8" r="2.8"/><circle cx="656.8" cy="124.2" r="2.3"/><circle cx="673.5" cy="124.3" r="2.4"/><circle cx="569.1" cy="128.0" r="2.4"/><circle cx="585.8" cy="133.0" r="2.9"/><circle cx="603.0" cy="131.2" r="3.0"/><circle cx="616.8" cy="132.2" r="2.7"/><circle cx="634.6" cy="131.6" r="2.5"/><circle cx="651.4" cy="130.3" r="2.8"/><circle cx="667.3" cy="132.4" r="2.4"/><circle cx="570.4" cy="136.4" r="2.8"/><circle cx="586.5" cy="137.8" r="2.4"/><circle cx="599.7" cy="140.6" r="2.5"/><circle cx="618.2" cy="138.9" r="2.4"/><circle cx="635.8" cy="142.3" r="2.7"/><circle cx="652.5" cy="136.9" r="2.3"/><circle cx="670.1" cy="141.6" r="2.3"/><circle cx="575.9" cy="151.0" r="2.4"/><circle cx="592.2" cy="146.4" r="2.6"/><circle cx="613.9" cy="149.6" r="2.8"/><circle cx="629.0" cy="146.8" r="2.8"/><circle cx="641.4" cy="146.3" r="2.4"/><circle cx="660.4" cy="148.0" r="2.5"/><circle cx="676.9" cy="149.5" r="3.0"/><circle cx="588.7" cy="156.9" r="2.5"/><circle cx="602.2" cy="159.9" r="2.3"/><circle cx="616.1" cy="155.0" r="2.6"/><circle cx="639.6" cy="154.5" r="2.7"/><circle cx="651.9" cy="154.0" r="2.7"/><circle cx="668.2" cy="153.3" r="2.7"/><circle cx="574.8" cy="162.5" r="2.5"/><circle cx="592.4" cy="162.6" r="2.4"/><circle cx="611.3" cy="163.4" r="2.3"/><circle cx="626.2" cy="164.3" r="2.4"/><circle cx="645.2" cy="168.1" r="2.8"/><circle cx="664.0" cy="166.4" r="3.0"/><circle cx="681.0" cy="164.4" r="2.4"/><circle cx="578.6" cy="174.2" r="2.3"/><circle cx="596.3" cy="177.0" r="2.7"/><circle cx="609.5" cy="170.3" r="2.7"/><circle cx="628.0" cy="171.4" r="2.8"/><circle cx="642.0" cy="172.4" r="2.9"/><circle cx="663.7" cy="176.9" r="2.7"/><circle cx="681.0" cy="173.2" r="2.3"/><g fill="#7c3a9c"><circle cx="579.9" cy="65.0" r="2.9"/><circle cx="594.8" cy="66.1" r="2.4"/><circle cx="625.3" cy="65.4" r="2.4"/><circle cx="665.0" cy="63.5" r="2.8"/><circle cx="682.1" cy="66.1" r="2.5"/><circle cx="583.9" cy="74.0" r="2.6"/><circle cx="599.1" cy="75.1" r="2.3"/><circle cx="621.3" cy="70.8" r="2.7"/><circle cx="639.5" cy="69.6" r="2.8"/><circle cx="652.2" cy="71.9" r="2.8"/><circle cx="672.8" cy="68.4" r="3.0"/><circle cx="568.6" cy="78.9" r="2.5"/><circle cx="586.6" cy="83.8" r="2.4"/><circle cx="601.6" cy="78.4" r="2.7"/><circle cx="616.1" cy="83.2" r="2.3"/><circle cx="637.9" cy="83.5" r="2.7"/><circle cx="650.7" cy="82.7" r="2.5"/><circle cx="673.6" cy="79.9" r="2.6"/><circle cx="571.7" cy="92.0" r="2.7"/><circle cx="583.6" cy="90.8" r="2.9"/><circle cx="603.6" cy="89.9" r="2.8"/><circle cx="619.1" cy="90.7" r="2.8"/><circle cx="636.8" cy="85.3" r="2.7"/><circle cx="655.5" cy="89.8" r="2.9"/><circle cx="672.6" cy="87.7" r="2.9"/><circle cx="576.6" cy="98.6" r="2.8"/><circle cx="594.3" cy="98.4" r="2.6"/><circle cx="612.3" cy="93.9" r="2.4"/><circle cx="629.1" cy="98.2" r="2.3"/><circle cx="642.1" cy="95.9" r="2.4"/><circle cx="660.9" cy="98.0" r="2.7"/><circle cx="678.1" cy="95.7" r="2.6"/><circle cx="588.5" cy="108.0" r="2.6"/><circle cx="599.7" cy="106.4" r="2.7"/><circle cx="618.2" cy="108.6" r="2.3"/><circle cx="633.7" cy="106.7" r="2.9"/><circle cx="651.8" cy="109.1" r="2.6"/><circle cx="668.5" cy="109.2" r="2.6"/><circle cx="575.3" cy="116.3" r="2.9"/><circle cx="596.9" cy="116.3" r="2.5"/><circle cx="609.3" cy="115.0" r="2.6"/><circle cx="625.0" cy="116.1" r="2.5"/><circle cx="645.0" cy="114.0" r="2.6"/><circle cx="660.0" cy="113.9" r="2.9"/><circle cx="680.7" cy="113.7" r="2.7"/><circle cx="579.3" cy="120.6" r="2.5"/><circle cx="595.1" cy="122.3" r="2.5"/><circle cx="610.6" cy="123.1" r="2.6"/><circle cx="630.0" cy="119.7" r="2.5"/><circle cx="641.4" cy="124.3" r="3.0"/><circle cx="664.2" cy="120.7" r="2.8"/><circle cx="677.3" cy="125.7" r="2.4"/><circle cx="575.9" cy="128.2" r="2.3"/><circle cx="591.1" cy="130.8" r="2.5"/><circle cx="609.9" cy="128.1" r="2.8"/><circle cx="630.7" cy="131.6" r="2.7"/><circle cx="646.5" cy="131.4" r="2.4"/><circle cx="659.5" cy="132.8" r="2.8"/><circle cx="676.1" cy="131.9" r="2.5"/><circle cx="573.6" cy="137.3" r="3.0"/><circle cx="597.1" cy="140.9" r="2.9"/><circle cx="608.9" cy="138.6" r="2.7"/><circle cx="630.1" cy="140.8" r="2.9"/><circle cx="645.4" cy="140.3" r="2.8"/><circle cx="659.6" cy="136.5" r="2.9"/><circle cx="678.5" cy="142.5" r="2.7"/><circle cx="583.5" cy="146.7" r="2.4"/><circle cx="598.9" cy="151.3" r="2.6"/><circle cx="619.0" cy="151.4" r="2.4"/><circle cx="637.9" cy="145.8" r="2.4"/><circle cx="652.5" cy="151.6" r="2.6"/><circle cx="671.9" cy="149.8" r="2.4"/><circle cx="576.1" cy="153.5" r="2.7"/><circle cx="590.8" cy="153.7" r="2.9"/><circle cx="608.9" cy="153.5" r="2.6"/><circle cx="626.4" cy="153.5" r="2.3"/><circle cx="644.1" cy="157.0" r="2.4"/><circle cx="664.8" cy="157.5" r="2.9"/><circle cx="678.7" cy="157.3" r="2.6"/><circle cx="582.3" cy="167.2" r="2.9"/><circle cx="600.4" cy="162.3" r="2.6"/><circle cx="620.7" cy="162.0" r="2.4"/><circle cx="635.7" cy="163.9" r="2.8"/><circle cx="655.1" cy="165.8" r="2.6"/><circle cx="671.9" cy="166.7" r="2.5"/><circle cx="569.5" cy="172.2" r="2.3"/><circle cx="582.0" cy="171.1" r="2.6"/><circle cx="600.3" cy="173.2" r="2.6"/><circle cx="621.6" cy="175.4" r="2.4"/><circle cx="635.9" cy="176.9" r="2.9"/><circle cx="653.0" cy="173.3" r="2.6"/><circle cx="673.6" cy="174.4" r="2.4"/></g></g>
</g>
<g clip-path="url(#cHFDf)">
<rect x="434" y="186" width="122.2" height="122.2" filter="url(#hHFDf)"/>
<g fill="#64288c" fill-opacity="0.8" stroke="#fff" stroke-opacity="0.5" stroke-width="1.1" filter="url(#nHFDf)"><circle cx="442.0" cy="189.7" r="2.2"/><circle cx="465.1" cy="191.4" r="2.1"/><circle cx="480.0" cy="188.9" r="2.6"/><circle cx="508.3" cy="188.7" r="2.3"/><circle cx="529.0" cy="189.2" r="2.2"/><circle cx="542.9" cy="189.6" r="2.5"/><circle cx="453.7" cy="195.4" r="2.4"/><circle cx="467.5" cy="199.1" r="2.3"/><circle cx="480.4" cy="199.4" r="2.5"/><circle cx="490.7" cy="196.3" r="2.1"/><circle cx="505.3" cy="195.0" r="2.2"/><circle cx="521.8" cy="198.8" r="2.5"/><circle cx="534.7" cy="198.8" r="2.6"/><circle cx="547.9" cy="196.4" r="2.4"/><circle cx="445.6" cy="203.6" r="2.4"/><circle cx="460.1" cy="205.7" r="2.5"/><circle cx="473.3" cy="200.9" r="2.0"/><circle cx="483.9" cy="200.6" r="2.1"/><circle cx="502.7" cy="204.2" r="2.1"/><circle cx="512.3" cy="205.6" r="2.6"/><circle cx="526.2" cy="202.6" r="2.2"/><circle cx="545.2" cy="203.7" r="2.1"/><circle cx="446.1" cy="210.7" r="2.5"/><circle cx="461.4" cy="212.6" r="2.5"/><circle cx="472.6" cy="209.7" r="2.0"/><circle cx="487.6" cy="213.2" r="2.3"/><circle cx="499.7" cy="208.9" r="2.1"/><circle cx="516.9" cy="212.5" r="2.3"/><circle cx="529.4" cy="212.9" r="2.5"/><circle cx="544.2" cy="209.5" r="2.5"/><circle cx="446.3" cy="215.4" r="2.5"/><circle cx="458.8" cy="215.3" r="2.0"/><circle cx="475.0" cy="217.1" r="2.5"/><circle cx="485.3" cy="216.0" r="2.4"/><circle cx="502.9" cy="216.6" r="2.3"/><circle cx="517.0" cy="217.5" r="2.3"/><circle cx="526.6" cy="214.6" r="2.5"/><circle cx="542.8" cy="216.5" r="2.3"/><circle cx="439.1" cy="224.5" r="2.3"/><circle cx="452.2" cy="224.5" r="2.3"/><circle cx="465.4" cy="227.1" r="2.4"/><circle cx="479.8" cy="227.1" r="2.5"/><circle cx="491.0" cy="223.0" r="2.0"/><circle cx="505.5" cy="225.8" r="2.4"/><circle cx="519.9" cy="227.2" r="2.2"/><circle cx="533.5" cy="224.1" r="2.3"/><circle cx="550.8" cy="221.7" r="2.3"/><circle cx="447.4" cy="233.2" r="2.6"/><circle cx="460.1" cy="230.2" r="2.1"/><circle cx="471.1" cy="229.4" r="2.6"/><circle cx="483.9" cy="232.6" r="2.3"/><circle cx="502.3" cy="229.1" r="2.5"/><circle cx="513.6" cy="231.8" r="2.6"/><circle cx="527.0" cy="229.2" r="2.1"/><circle cx="541.4" cy="233.0" r="2.2"/><circle cx="553.7" cy="230.0" r="2.0"/><circle cx="444.4" cy="241.1" r="2.1"/><circle cx="460.5" cy="237.9" r="2.3"/><circle cx="474.5" cy="239.7" r="2.4"/><circle cx="484.3" cy="236.0" r="2.4"/><circle cx="502.5" cy="240.7" r="2.4"/><circle cx="514.3" cy="236.5" r="2.3"/><circle cx="528.8" cy="237.0" r="2.6"/><circle cx="541.8" cy="238.4" r="2.3"/><circle cx="442.9" cy="246.0" r="2.3"/><circle cx="460.7" cy="244.9" r="2.2"/><circle cx="473.3" cy="242.8" r="2.5"/><circle cx="488.3" cy="243.4" r="2.3"/><circle cx="502.4" cy="246.0" r="2.5"/><circle cx="511.7" cy="243.3" r="2.2"/><circle cx="529.3" cy="246.2" r="2.4"/><circle cx="544.0" cy="245.5" r="2.3"/><circle cx="438.8" cy="250.8" r="2.4"/><circle cx="451.4" cy="253.6" r="2.5"/><circle cx="463.4" cy="251.1" r="2.4"/><circle cx="476.9" cy="251.1" r="2.4"/><circle cx="493.6" cy="252.3" r="2.3"/><circle cx="510.3" cy="255.1" r="2.0"/><circle cx="521.2" cy="251.1" r="2.1"/><circle cx="533.4" cy="252.6" r="2.6"/><circle cx="551.8" cy="253.7" r="2.1"/><circle cx="450.4" cy="261.5" r="2.0"/><circle cx="468.0" cy="260.8" r="2.5"/><circle cx="482.4" cy="260.0" r="2.2"/><circle cx="491.2" cy="261.5" r="2.2"/><circle cx="507.6" cy="257.7" r="2.2"/><circle cx="522.3" cy="261.9" r="2.6"/><circle cx="536.9" cy="259.2" r="2.5"/><circle cx="552.0" cy="257.3" r="2.3"/><circle cx="443.3" cy="266.8" r="2.2"/><circle cx="460.9" cy="266.5" r="2.1"/><circle cx="470.4" cy="264.7" r="2.1"/><circle cx="485.1" cy="266.9" r="2.5"/><circle cx="500.6" cy="265.8" r="2.2"/><circle cx="512.3" cy="266.5" r="2.4"/><circle cx="527.0" cy="265.9" r="2.3"/><circle cx="539.7" cy="263.7" r="2.4"/><circle cx="553.6" cy="265.9" r="2.6"/><circle cx="443.0" cy="271.2" r="2.1"/><circle cx="459.8" cy="274.4" r="2.5"/><circle cx="474.2" cy="271.9" r="2.6"/><circle cx="485.0" cy="274.3" r="2.4"/><circle cx="501.0" cy="272.8" r="2.1"/><circle cx="514.3" cy="276.2" r="2.4"/><circle cx="527.0" cy="276.2" r="2.4"/><circle cx="543.5" cy="273.0" r="2.2"/><circle cx="553.8" cy="272.5" r="2.3"/><circle cx="445.9" cy="280.5" r="2.1"/><circle cx="456.9" cy="278.9" r="2.5"/><circle cx="470.7" cy="278.9" r="2.3"/><circle cx="485.9" cy="278.8" r="2.6"/><circle cx="499.9" cy="282.8" r="2.5"/><circle cx="513.5" cy="278.7" r="2.6"/><circle cx="527.8" cy="279.8" r="2.2"/><circle cx="541.6" cy="283.2" r="2.1"/><circle cx="447.0" cy="285.7" r="2.2"/><circle cx="460.3" cy="289.1" r="2.0"/><circle cx="471.1" cy="289.0" r="2.5"/><circle cx="487.2" cy="286.1" r="2.4"/><circle cx="502.0" cy="289.9" r="2.4"/><circle cx="514.4" cy="290.2" r="2.6"/><circle cx="528.5" cy="290.0" r="2.1"/><circle cx="544.1" cy="288.1" r="2.2"/><circle cx="444.8" cy="293.5" r="2.6"/><circle cx="456.1" cy="292.1" r="2.3"/><circle cx="472.0" cy="295.2" r="2.4"/><circle cx="484.3" cy="296.5" r="2.2"/><circle cx="498.7" cy="293.0" r="2.1"/><circle cx="513.5" cy="293.9" r="2.6"/><circle cx="529.4" cy="297.4" r="2.1"/><circle cx="544.9" cy="291.8" r="2.2"/><circle cx="439.7" cy="301.2" r="2.2"/><circle cx="452.1" cy="302.2" r="2.1"/><circle cx="464.1" cy="302.1" r="2.4"/><circle cx="480.5" cy="299.6" r="2.2"/><circle cx="490.9" cy="299.2" r="2.2"/><circle cx="505.5" cy="302.6" r="2.2"/><circle cx="520.4" cy="301.9" r="2.2"/><circle cx="534.7" cy="299.7" r="2.4"/><circle cx="549.1" cy="303.4" r="2.2"/><g fill="#7e3ea6"><circle cx="448.9" cy="189.5" r="2.0"/><circle cx="470.9" cy="190.2" r="2.6"/><circle cx="483.8" cy="191.6" r="2.2"/><circle cx="522.6" cy="189.1" r="2.2"/><circle cx="537.2" cy="190.7" r="2.1"/><circle cx="445.5" cy="198.1" r="2.3"/><circle cx="459.1" cy="197.0" r="2.3"/><circle cx="473.5" cy="193.9" r="2.4"/><circle cx="485.2" cy="195.8" r="2.4"/><circle cx="498.2" cy="193.9" r="2.5"/><circle cx="516.7" cy="194.0" r="2.3"/><circle cx="530.6" cy="195.2" r="2.2"/><circle cx="540.4" cy="194.6" r="2.1"/><circle cx="436.7" cy="203.9" r="2.6"/><circle cx="452.5" cy="200.9" r="2.5"/><circle cx="464.9" cy="202.9" r="2.1"/><circle cx="477.8" cy="201.5" r="2.2"/><circle cx="491.2" cy="202.7" r="2.0"/><circle cx="506.0" cy="202.6" r="2.2"/><circle cx="521.3" cy="203.4" r="2.1"/><circle cx="537.4" cy="201.5" r="2.0"/><circle cx="549.8" cy="200.7" r="2.3"/><circle cx="450.5" cy="208.9" r="2.5"/><circle cx="467.4" cy="211.9" r="2.1"/><circle cx="476.7" cy="209.2" r="2.2"/><circle cx="496.1" cy="213.4" r="2.6"/><circle cx="505.7" cy="208.8" r="2.4"/><circle cx="522.4" cy="212.3" r="2.1"/><circle cx="537.0" cy="210.4" r="2.1"/><circle cx="552.3" cy="209.9" r="2.2"/><circle cx="454.3" cy="218.4" r="2.2"/><circle cx="468.3" cy="218.4" r="2.3"/><circle cx="481.4" cy="215.8" r="2.2"/><circle cx="492.1" cy="217.0" r="2.1"/><circle cx="508.0" cy="219.9" r="2.3"/><circle cx="521.6" cy="214.7" r="2.3"/><circle cx="533.6" cy="217.3" r="2.4"/><circle cx="549.8" cy="219.2" r="2.1"/><circle cx="446.0" cy="226.9" r="2.3"/><circle cx="459.6" cy="224.2" r="2.3"/><circle cx="474.7" cy="227.1" r="2.2"/><circle cx="484.4" cy="222.3" r="2.3"/><circle cx="501.5" cy="226.2" r="2.5"/><circle cx="512.4" cy="226.8" r="2.6"/><circle cx="528.4" cy="227.4" r="2.5"/><circle cx="541.6" cy="222.7" r="2.2"/><circle cx="438.2" cy="231.6" r="2.0"/><circle cx="449.2" cy="230.1" r="2.0"/><circle cx="465.0" cy="233.9" r="2.5"/><circle cx="479.9" cy="232.7" r="2.1"/><circle cx="491.0" cy="234.1" r="2.4"/><circle cx="505.0" cy="233.6" r="2.3"/><circle cx="520.1" cy="229.3" r="2.3"/><circle cx="532.9" cy="229.7" r="2.2"/><circle cx="549.5" cy="229.6" r="2.2"/><circle cx="438.9" cy="238.8" r="2.1"/><circle cx="453.4" cy="238.1" r="2.3"/><circle cx="466.6" cy="241.3" r="2.2"/><circle cx="478.9" cy="237.6" r="2.0"/><circle cx="492.1" cy="236.5" r="2.1"/><circle cx="506.2" cy="237.0" r="2.2"/><circle cx="520.1" cy="241.2" r="2.6"/><circle cx="534.4" cy="237.7" r="2.0"/><circle cx="547.7" cy="238.5" r="2.0"/><circle cx="453.0" cy="246.4" r="2.4"/><circle cx="468.4" cy="243.4" r="2.4"/><circle cx="481.8" cy="246.2" r="2.4"/><circle cx="493.5" cy="247.5" r="2.5"/><circle cx="508.6" cy="246.6" r="2.1"/><circle cx="519.2" cy="247.5" r="2.3"/><circle cx="535.4" cy="242.6" r="2.5"/><circle cx="550.4" cy="242.9" r="2.4"/><circle cx="447.3" cy="252.5" r="2.2"/><circle cx="459.2" cy="253.3" r="2.0"/><circle cx="471.3" cy="252.9" r="2.0"/><circle cx="487.6" cy="253.5" r="2.2"/><circle cx="498.3" cy="254.8" r="2.1"/><circle cx="514.3" cy="254.4" r="2.6"/><circle cx="531.1" cy="250.8" r="2.3"/><circle cx="540.3" cy="254.4" r="2.3"/><circle cx="443.3" cy="257.4" r="2.2"/><circle cx="460.0" cy="261.5" r="2.1"/><circle cx="471.3" cy="258.7" r="2.2"/><circle cx="486.1" cy="258.2" r="2.0"/><circle cx="503.1" cy="258.0" r="2.2"/><circle cx="517.2" cy="261.8" r="2.5"/><circle cx="528.8" cy="260.8" r="2.0"/><circle cx="543.3" cy="258.2" r="2.0"/><circle cx="440.3" cy="265.1" r="2.4"/><circle cx="449.5" cy="264.5" r="2.1"/><circle cx="467.9" cy="269.4" r="2.3"/><circle cx="478.6" cy="264.1" r="2.1"/><circle cx="495.0" cy="266.0" r="2.2"/><circle cx="504.9" cy="265.2" r="2.6"/><circle cx="523.6" cy="264.8" r="2.2"/><circle cx="538.2" cy="268.6" r="2.5"/><circle cx="551.8" cy="266.3" r="2.4"/><circle cx="439.4" cy="275.6" r="2.6"/><circle cx="451.6" cy="274.6" r="2.6"/><circle cx="465.2" cy="273.8" r="2.0"/><circle cx="480.4" cy="272.3" r="2.1"/><circle cx="491.2" cy="271.0" r="2.3"/><circle cx="508.1" cy="270.6" r="2.2"/><circle cx="523.8" cy="273.4" r="2.1"/><circle cx="534.4" cy="270.7" r="2.3"/><circle cx="550.5" cy="276.0" r="2.1"/><circle cx="438.6" cy="278.7" r="2.5"/><circle cx="454.3" cy="279.4" r="2.5"/><circle cx="464.3" cy="283.2" r="2.3"/><circle cx="480.5" cy="283.1" r="2.1"/><circle cx="491.4" cy="277.9" r="2.0"/><circle cx="508.9" cy="283.4" r="2.6"/><circle cx="522.9" cy="277.7" r="2.4"/><circle cx="533.6" cy="277.6" r="2.2"/><circle cx="552.2" cy="278.8" r="2.2"/><circle cx="453.8" cy="284.7" r="2.2"/><circle cx="462.8" cy="284.9" r="2.6"/><circle cx="478.6" cy="286.2" r="2.6"/><circle cx="492.4" cy="286.2" r="2.0"/><circle cx="510.1" cy="284.7" r="2.1"/><circle cx="520.8" cy="286.0" r="2.3"/><circle cx="537.3" cy="288.9" r="2.5"/><circle cx="548.4" cy="286.7" r="2.5"/><circle cx="453.8" cy="297.4" r="2.2"/><circle cx="466.7" cy="294.2" r="2.1"/><circle cx="481.0" cy="296.5" r="2.4"/><circle cx="493.9" cy="293.8" r="2.4"/><circle cx="505.5" cy="296.8" r="2.3"/><circle cx="521.5" cy="292.9" r="2.5"/><circle cx="535.4" cy="296.4" r="2.5"/><circle cx="547.3" cy="292.7" r="2.6"/><circle cx="446.1" cy="304.1" r="2.1"/><circle cx="457.7" cy="299.4" r="2.1"/><circle cx="470.8" cy="298.6" r="2.2"/><circle cx="484.8" cy="303.2" r="2.3"/><circle cx="500.8" cy="302.3" r="2.1"/><circle cx="513.2" cy="300.4" r="2.6"/><circle cx="528.0" cy="303.6" r="2.6"/><circle cx="540.8" cy="298.6" r="2.5"/></g></g>
</g>
<g clip-path="url(#cHFDm)">
<rect x="564" y="186" width="121.0" height="122.2" filter="url(#hHFDm)"/>
<g fill="#8a48ac" fill-opacity="0.75" stroke="#fff" stroke-opacity="0.3" stroke-width="1.1" filter="url(#nHFDm)"><circle cx="569.6" cy="190.7" r="2.0"/><circle cx="626.5" cy="189.4" r="2.0"/><circle cx="656.8" cy="190.8" r="2.4"/><circle cx="680.3" cy="191.2" r="2.0"/><circle cx="585.8" cy="199.5" r="2.2"/><circle cx="610.1" cy="200.1" r="2.3"/><circle cx="627.0" cy="199.0" r="2.0"/><circle cx="654.0" cy="208.2" r="2.2"/><circle cx="678.8" cy="200.7" r="2.3"/><circle cx="587.0" cy="221.0" r="2.0"/><circle cx="607.1" cy="211.4" r="2.2"/><circle cx="625.8" cy="214.5" r="2.5"/><circle cx="658.9" cy="216.8" r="1.9"/><circle cx="675.1" cy="215.4" r="2.1"/><circle cx="585.1" cy="228.0" r="2.4"/><circle cx="603.3" cy="232.7" r="2.2"/><circle cx="631.7" cy="224.7" r="2.5"/><circle cx="650.7" cy="232.5" r="2.6"/><circle cx="675.1" cy="226.9" r="2.3"/><circle cx="582.6" cy="242.0" r="1.9"/><circle cx="604.8" cy="243.9" r="2.0"/><circle cx="629.9" cy="236.0" r="1.9"/><circle cx="649.8" cy="242.8" r="2.1"/><circle cx="678.6" cy="238.9" r="2.0"/><circle cx="585.9" cy="252.4" r="2.3"/><circle cx="607.4" cy="252.4" r="2.1"/><circle cx="632.0" cy="251.5" r="2.2"/><circle cx="652.7" cy="255.8" r="2.1"/><circle cx="681.8" cy="247.3" r="2.3"/><circle cx="593.7" cy="264.4" r="1.9"/><circle cx="613.0" cy="268.6" r="2.3"/><circle cx="638.0" cy="262.5" r="2.1"/><circle cx="662.1" cy="260.2" r="2.6"/><circle cx="582.2" cy="272.9" r="2.2"/><circle cx="609.0" cy="271.5" r="2.1"/><circle cx="625.6" cy="273.7" r="2.1"/><circle cx="658.0" cy="280.3" r="2.5"/><circle cx="676.2" cy="273.5" r="2.3"/><circle cx="581.6" cy="289.1" r="2.3"/><circle cx="604.2" cy="284.7" r="2.3"/><circle cx="626.3" cy="289.3" r="2.1"/><circle cx="657.9" cy="290.4" r="2.0"/><circle cx="678.5" cy="287.7" r="2.5"/><circle cx="598.2" cy="295.4" r="2.0"/><circle cx="623.0" cy="301.5" r="2.2"/><circle cx="643.9" cy="298.6" r="2.1"/><circle cx="667.1" cy="303.7" r="2.3"/><g fill="#9a5cc0"><circle cx="620.1" cy="191.5" r="2.4"/><circle cx="642.1" cy="196.3" r="2.3"/><circle cx="662.0" cy="189.9" r="2.4"/><circle cx="573.1" cy="201.0" r="2.5"/><circle cx="593.9" cy="199.2" r="2.2"/><circle cx="614.2" cy="204.8" r="2.5"/><circle cx="642.4" cy="199.1" r="2.0"/><circle cx="665.0" cy="205.4" r="2.0"/><circle cx="571.1" cy="212.5" r="2.1"/><circle cx="596.1" cy="220.5" r="2.1"/><circle cx="619.8" cy="216.9" r="2.4"/><circle cx="642.8" cy="215.5" r="2.2"/><circle cx="669.0" cy="214.3" r="2.2"/><circle cx="572.9" cy="223.2" r="2.4"/><circle cx="591.5" cy="230.4" r="2.2"/><circle cx="616.7" cy="231.6" r="2.2"/><circle cx="639.6" cy="223.5" r="2.6"/><circle cx="667.1" cy="223.1" r="1.9"/><circle cx="570.6" cy="236.3" r="2.0"/><circle cx="593.5" cy="242.1" r="2.4"/><circle cx="620.2" cy="242.7" r="2.5"/><circle cx="642.3" cy="236.7" r="2.3"/><circle cx="661.1" cy="236.7" r="2.2"/><circle cx="574.4" cy="247.3" r="2.6"/><circle cx="594.4" cy="256.1" r="1.9"/><circle cx="620.3" cy="254.2" r="2.0"/><circle cx="643.4" cy="247.5" r="2.3"/><circle cx="669.3" cy="254.3" r="2.3"/><circle cx="578.8" cy="259.6" r="2.1"/><circle cx="608.8" cy="262.3" r="2.4"/><circle cx="634.8" cy="268.9" r="2.5"/><circle cx="656.8" cy="260.9" r="2.1"/><circle cx="571.4" cy="273.3" r="2.1"/><circle cx="598.5" cy="271.2" r="2.0"/><circle cx="621.5" cy="277.1" r="2.1"/><circle cx="645.0" cy="280.8" r="2.5"/><circle cx="670.2" cy="280.7" r="2.0"/><circle cx="569.0" cy="285.1" r="2.1"/><circle cx="593.4" cy="284.8" r="2.2"/><circle cx="614.9" cy="290.1" r="2.4"/><circle cx="641.5" cy="289.1" r="2.4"/><circle cx="666.4" cy="286.3" r="1.9"/><circle cx="582.3" cy="295.7" r="1.9"/><circle cx="602.6" cy="295.9" r="2.5"/><circle cx="633.9" cy="300.1" r="2.0"/><circle cx="652.2" cy="298.8" r="2.0"/><circle cx="673.1" cy="301.9" r="1.9"/></g></g>
</g>
<g clip-path="url(#cDPN)">
<rect x="564" y="323.3" width="121.0" height="121.8" filter="url(#hDPN)"/>
<g fill="#7c2e9c" fill-opacity="0.75" stroke="#fff" stroke-opacity="0.6" stroke-width="1.1" filter="url(#nDPN)"><circle cx="567.4" cy="327.4" r="3.1"/><circle cx="580.5" cy="327.1" r="2.9"/><circle cx="601.9" cy="330.0" r="3.2"/><circle cx="616.5" cy="327.2" r="2.5"/><circle cx="641.8" cy="327.9" r="2.8"/><circle cx="659.6" cy="330.1" r="3.1"/><circle cx="578.1" cy="333.8" r="2.6"/><circle cx="587.3" cy="333.4" r="3.2"/><circle cx="602.2" cy="331.7" r="3.1"/><circle cx="617.6" cy="335.8" r="2.6"/><circle cx="632.5" cy="333.0" r="3.2"/><circle cx="647.3" cy="333.7" r="3.1"/><circle cx="662.1" cy="332.9" r="3.0"/><circle cx="676.2" cy="334.9" r="2.7"/><circle cx="577.4" cy="339.8" r="2.6"/><circle cx="588.0" cy="343.3" r="3.2"/><circle cx="605.3" cy="341.3" r="2.6"/><circle cx="620.8" cy="340.3" r="3.1"/><circle cx="635.7" cy="339.1" r="2.7"/><circle cx="647.7" cy="344.4" r="2.6"/><circle cx="661.2" cy="339.8" r="2.8"/><circle cx="681.1" cy="344.8" r="3.0"/><circle cx="583.3" cy="349.1" r="3.0"/><circle cx="597.6" cy="350.7" r="3.1"/><circle cx="614.7" cy="348.3" r="3.0"/><circle cx="628.7" cy="351.5" r="2.9"/><circle cx="642.4" cy="346.6" r="2.9"/><circle cx="655.8" cy="350.7" r="2.9"/><circle cx="672.9" cy="346.3" r="2.9"/><circle cx="576.2" cy="354.8" r="2.6"/><circle cx="592.3" cy="355.5" r="3.0"/><circle cx="607.3" cy="359.0" r="2.8"/><circle cx="619.5" cy="358.7" r="3.1"/><circle cx="632.2" cy="356.3" r="2.7"/><circle cx="649.1" cy="355.5" r="3.1"/><circle cx="661.0" cy="358.9" r="2.5"/><circle cx="680.5" cy="353.6" r="2.6"/><circle cx="583.5" cy="365.9" r="3.2"/><circle cx="595.3" cy="361.0" r="2.8"/><circle cx="611.1" cy="365.2" r="2.9"/><circle cx="628.7" cy="366.5" r="2.6"/><circle cx="641.4" cy="364.8" r="3.1"/><circle cx="658.3" cy="366.8" r="2.8"/><circle cx="673.3" cy="364.9" r="3.0"/><circle cx="574.2" cy="368.8" r="2.8"/><circle cx="587.0" cy="373.3" r="2.5"/><circle cx="606.5" cy="369.2" r="2.6"/><circle cx="620.7" cy="374.2" r="2.8"/><circle cx="634.5" cy="370.1" r="3.0"/><circle cx="649.5" cy="370.2" r="2.8"/><circle cx="666.1" cy="374.3" r="2.9"/><circle cx="678.7" cy="372.1" r="2.5"/><circle cx="576.3" cy="376.1" r="2.9"/><circle cx="588.5" cy="378.6" r="2.6"/><circle cx="604.6" cy="377.7" r="2.6"/><circle cx="621.2" cy="375.8" r="2.6"/><circle cx="633.4" cy="379.5" r="2.6"/><circle cx="647.5" cy="376.9" r="2.9"/><circle cx="664.1" cy="376.7" r="2.6"/><circle cx="680.9" cy="379.5" r="3.1"/><circle cx="577.7" cy="384.4" r="3.2"/><circle cx="591.3" cy="384.7" r="2.6"/><circle cx="602.4" cy="385.6" r="3.0"/><circle cx="622.1" cy="389.1" r="2.6"/><circle cx="635.5" cy="384.3" r="2.5"/><circle cx="649.2" cy="386.6" r="2.6"/><circle cx="666.9" cy="388.9" r="2.6"/><circle cx="680.3" cy="385.1" r="2.8"/><circle cx="581.9" cy="391.7" r="2.6"/><circle cx="599.2" cy="394.9" r="3.1"/><circle cx="612.1" cy="396.6" r="3.1"/><circle cx="628.6" cy="395.6" r="2.8"/><circle cx="643.4" cy="395.2" r="2.8"/><circle cx="656.3" cy="390.6" r="2.7"/><circle cx="674.1" cy="394.6" r="2.7"/><circle cx="569.0" cy="402.6" r="3.2"/><circle cx="581.0" cy="400.4" r="2.5"/><circle cx="595.8" cy="403.5" r="2.9"/><circle cx="615.2" cy="401.9" r="3.1"/><circle cx="624.1" cy="403.7" r="2.6"/><circle cx="642.4" cy="398.3" r="3.2"/><circle cx="655.7" cy="399.7" r="3.0"/><circle cx="670.0" cy="398.0" r="2.7"/><circle cx="572.4" cy="410.9" r="2.8"/><circle cx="590.0" cy="411.1" r="3.0"/><circle cx="605.3" cy="406.0" r="2.9"/><circle cx="619.7" cy="406.1" r="2.8"/><circle cx="634.8" cy="407.9" r="3.0"/><circle cx="650.6" cy="406.8" r="2.6"/><circle cx="663.0" cy="407.0" r="3.0"/><circle cx="680.3" cy="406.5" r="2.7"/><circle cx="582.8" cy="413.1" r="2.6"/><circle cx="596.5" cy="415.7" r="2.6"/><circle cx="609.5" cy="413.4" r="3.1"/><circle cx="626.4" cy="414.3" r="3.1"/><circle cx="640.6" cy="416.1" r="3.0"/><circle cx="654.0" cy="418.1" r="2.6"/><circle cx="672.5" cy="414.5" r="3.0"/><circle cx="568.9" cy="421.9" r="2.6"/><circle cx="580.1" cy="424.5" r="2.9"/><circle cx="596.9" cy="425.1" r="2.7"/><circle cx="614.6" cy="421.6" r="2.8"/><circle cx="626.2" cy="421.3" r="2.9"/><circle cx="642.1" cy="421.2" r="3.0"/><circle cx="656.6" cy="423.5" r="2.9"/><circle cx="668.6" cy="423.5" r="3.1"/><circle cx="573.5" cy="428.9" r="3.0"/><circle cx="588.9" cy="433.5" r="3.0"/><circle cx="606.0" cy="433.2" r="2.8"/><circle cx="621.4" cy="432.7" r="3.1"/><circle cx="635.6" cy="432.5" r="2.8"/><circle cx="652.2" cy="429.8" r="2.6"/><circle cx="666.8" cy="427.9" r="2.7"/><circle cx="676.7" cy="427.9" r="2.8"/><circle cx="580.8" cy="436.0" r="2.7"/><circle cx="597.6" cy="440.0" r="2.8"/><circle cx="611.1" cy="438.3" r="3.2"/><circle cx="629.7" cy="439.9" r="2.8"/><circle cx="644.7" cy="439.0" r="2.7"/><circle cx="658.3" cy="439.3" r="2.9"/><circle cx="669.8" cy="440.3" r="2.9"/><g fill="#9a5cc0"><circle cx="574.9" cy="327.0" r="2.9"/><circle cx="594.8" cy="328.9" r="3.0"/><circle cx="613.1" cy="327.7" r="2.6"/><circle cx="634.1" cy="326.6" r="3.1"/><circle cx="650.1" cy="326.7" r="2.7"/><circle cx="678.1" cy="329.2" r="2.8"/><circle cx="583.3" cy="336.1" r="2.7"/><circle cx="598.9" cy="332.0" r="2.7"/><circle cx="610.1" cy="334.8" r="2.8"/><circle cx="627.8" cy="332.0" r="2.8"/><circle cx="643.6" cy="333.2" r="3.1"/><circle cx="657.4" cy="331.9" r="3.2"/><circle cx="670.2" cy="333.1" r="2.6"/><circle cx="570.6" cy="341.7" r="2.9"/><circle cx="585.0" cy="343.8" r="2.7"/><circle cx="595.4" cy="344.6" r="3.1"/><circle cx="609.2" cy="344.7" r="2.7"/><circle cx="627.5" cy="340.5" r="2.6"/><circle cx="642.1" cy="344.0" r="2.9"/><circle cx="653.5" cy="340.4" r="2.8"/><circle cx="671.7" cy="339.5" r="2.8"/><circle cx="576.3" cy="352.1" r="2.5"/><circle cx="588.8" cy="352.3" r="2.6"/><circle cx="606.2" cy="350.5" r="3.1"/><circle cx="622.0" cy="351.5" r="2.8"/><circle cx="635.1" cy="348.5" r="2.9"/><circle cx="652.2" cy="351.6" r="3.0"/><circle cx="663.5" cy="351.3" r="2.6"/><circle cx="678.6" cy="347.5" r="3.0"/><circle cx="585.0" cy="357.6" r="2.8"/><circle cx="595.4" cy="356.2" r="3.1"/><circle cx="612.6" cy="355.5" r="2.6"/><circle cx="628.2" cy="359.4" r="2.7"/><circle cx="639.9" cy="356.1" r="2.9"/><circle cx="659.5" cy="356.3" r="2.6"/><circle cx="672.6" cy="357.0" r="2.7"/><circle cx="575.9" cy="363.7" r="2.9"/><circle cx="591.0" cy="362.1" r="2.8"/><circle cx="606.0" cy="362.0" r="2.7"/><circle cx="620.2" cy="365.6" r="2.8"/><circle cx="637.0" cy="365.4" r="2.6"/><circle cx="648.3" cy="364.4" r="3.1"/><circle cx="664.8" cy="362.2" r="3.0"/><circle cx="676.9" cy="366.5" r="3.2"/><circle cx="582.8" cy="373.1" r="2.8"/><circle cx="599.2" cy="369.4" r="2.7"/><circle cx="612.2" cy="372.8" r="3.1"/><circle cx="629.7" cy="368.8" r="2.7"/><circle cx="642.6" cy="371.5" r="3.1"/><circle cx="658.6" cy="373.9" r="2.6"/><circle cx="671.8" cy="369.5" r="2.9"/><circle cx="569.6" cy="379.2" r="2.8"/><circle cx="582.0" cy="381.6" r="3.1"/><circle cx="596.9" cy="380.8" r="3.1"/><circle cx="612.8" cy="381.4" r="2.6"/><circle cx="625.2" cy="380.0" r="2.7"/><circle cx="643.1" cy="376.5" r="2.9"/><circle cx="656.1" cy="378.0" r="2.8"/><circle cx="672.1" cy="379.7" r="2.9"/><circle cx="570.2" cy="385.1" r="2.7"/><circle cx="584.9" cy="383.9" r="2.7"/><circle cx="599.4" cy="385.7" r="3.1"/><circle cx="609.1" cy="384.3" r="3.0"/><circle cx="626.9" cy="387.8" r="2.9"/><circle cx="639.3" cy="383.3" r="2.9"/><circle cx="654.5" cy="384.4" r="3.1"/><circle cx="668.6" cy="389.0" r="2.8"/><circle cx="573.1" cy="393.3" r="3.0"/><circle cx="590.0" cy="390.6" r="3.1"/><circle cx="605.5" cy="393.0" r="2.9"/><circle cx="618.0" cy="396.2" r="3.0"/><circle cx="636.8" cy="396.0" r="3.0"/><circle cx="650.5" cy="390.9" r="2.7"/><circle cx="664.8" cy="394.4" r="2.7"/><circle cx="679.7" cy="394.0" r="2.9"/><circle cx="572.1" cy="401.7" r="3.0"/><circle cx="588.0" cy="400.2" r="2.6"/><circle cx="604.7" cy="403.9" r="2.9"/><circle cx="616.9" cy="401.6" r="3.0"/><circle cx="634.1" cy="398.9" r="2.8"/><circle cx="648.6" cy="401.2" r="2.9"/><circle cx="664.3" cy="399.7" r="3.0"/><circle cx="675.9" cy="398.9" r="3.0"/><circle cx="582.4" cy="411.3" r="2.7"/><circle cx="597.1" cy="411.4" r="3.1"/><circle cx="611.8" cy="406.6" r="2.5"/><circle cx="627.9" cy="408.1" r="2.7"/><circle cx="641.9" cy="411.5" r="3.2"/><circle cx="658.9" cy="410.2" r="2.9"/><circle cx="671.7" cy="409.0" r="2.9"/><circle cx="574.6" cy="416.6" r="2.6"/><circle cx="591.0" cy="416.1" r="2.9"/><circle cx="603.7" cy="417.3" r="3.1"/><circle cx="620.3" cy="417.5" r="2.6"/><circle cx="633.5" cy="416.8" r="3.2"/><circle cx="651.7" cy="415.4" r="2.8"/><circle cx="661.3" cy="416.2" r="2.8"/><circle cx="676.1" cy="414.0" r="3.0"/><circle cx="574.2" cy="424.6" r="2.8"/><circle cx="592.5" cy="425.9" r="3.1"/><circle cx="603.6" cy="422.6" r="3.2"/><circle cx="618.7" cy="422.4" r="2.8"/><circle cx="636.1" cy="423.5" r="3.1"/><circle cx="651.5" cy="421.8" r="2.5"/><circle cx="666.8" cy="424.1" r="3.1"/><circle cx="676.1" cy="420.6" r="3.0"/><circle cx="582.6" cy="432.2" r="2.8"/><circle cx="597.3" cy="430.8" r="3.0"/><circle cx="614.1" cy="431.6" r="3.1"/><circle cx="629.7" cy="431.5" r="2.9"/><circle cx="641.2" cy="428.4" r="3.0"/><circle cx="654.7" cy="430.1" r="2.7"/><circle cx="668.9" cy="431.5" r="3.0"/><circle cx="573.5" cy="439.4" r="2.9"/><circle cx="587.9" cy="439.6" r="2.7"/><circle cx="603.2" cy="440.4" r="3.1"/><circle cx="619.4" cy="436.3" r="2.5"/><circle cx="634.5" cy="438.1" r="2.7"/><circle cx="646.1" cy="437.8" r="2.8"/><circle cx="661.8" cy="435.9" r="2.7"/><circle cx="679.6" cy="441.1" r="2.7"/></g></g>
</g>
<g clip-path="url(#cDIP)">
<rect x="564" y="450" width="121.0" height="122.7" filter="url(#hDIP)"/>
<g fill="#8a4ab0" fill-opacity="0.65" stroke="#fff" stroke-opacity="0.35" stroke-width="1.1" filter="url(#nDIP)"><circle cx="566.4" cy="455.4" r="2.3"/><circle cx="599.5" cy="453.6" r="2.4"/><circle cx="627.6" cy="456.3" r="2.3"/><circle cx="644.3" cy="454.0" r="2.4"/><circle cx="657.8" cy="452.8" r="2.0"/><circle cx="676.0" cy="454.5" r="2.3"/><circle cx="574.6" cy="462.0" r="2.3"/><circle cx="590.9" cy="460.5" r="2.0"/><circle cx="612.2" cy="461.5" r="2.3"/><circle cx="627.6" cy="464.6" r="2.3"/><circle cx="644.6" cy="464.4" r="2.0"/><circle cx="655.8" cy="465.5" r="2.3"/><circle cx="675.3" cy="462.9" r="2.1"/><circle cx="584.9" cy="470.8" r="1.9"/><circle cx="597.5" cy="473.9" r="2.0"/><circle cx="614.4" cy="470.3" r="2.1"/><circle cx="633.7" cy="473.7" r="2.2"/><circle cx="646.9" cy="470.5" r="2.4"/><circle cx="668.9" cy="468.8" r="2.3"/><circle cx="680.9" cy="469.5" r="1.9"/><circle cx="577.0" cy="475.3" r="2.4"/><circle cx="591.5" cy="477.2" r="2.2"/><circle cx="611.3" cy="476.8" r="2.1"/><circle cx="624.5" cy="478.3" r="2.4"/><circle cx="639.3" cy="480.8" r="2.1"/><circle cx="654.9" cy="477.0" r="2.4"/><circle cx="673.6" cy="480.8" r="2.0"/><circle cx="576.8" cy="487.7" r="2.4"/><circle cx="592.9" cy="489.1" r="2.2"/><circle cx="606.3" cy="483.8" r="1.9"/><circle cx="628.0" cy="490.3" r="2.4"/><circle cx="643.4" cy="485.5" r="2.4"/><circle cx="658.1" cy="485.3" r="2.4"/><circle cx="673.0" cy="485.7" r="2.5"/><circle cx="567.5" cy="498.5" r="2.4"/><circle cx="587.3" cy="495.4" r="2.0"/><circle cx="601.4" cy="491.9" r="2.4"/><circle cx="616.0" cy="497.8" r="2.2"/><circle cx="635.4" cy="496.1" r="2.2"/><circle cx="647.6" cy="497.4" r="2.0"/><circle cx="664.8" cy="495.0" r="2.3"/><circle cx="682.6" cy="496.9" r="2.1"/><circle cx="581.7" cy="506.2" r="2.5"/><circle cx="602.4" cy="504.5" r="2.3"/><circle cx="618.0" cy="500.2" r="2.3"/><circle cx="636.3" cy="502.5" r="2.4"/><circle cx="653.1" cy="502.9" r="2.5"/><circle cx="667.8" cy="502.4" r="1.9"/><circle cx="567.5" cy="511.9" r="2.3"/><circle cx="583.3" cy="510.1" r="2.5"/><circle cx="598.9" cy="514.8" r="2.0"/><circle cx="616.5" cy="509.5" r="2.0"/><circle cx="631.9" cy="512.0" r="2.4"/><circle cx="652.1" cy="513.9" r="2.0"/><circle cx="666.6" cy="513.4" r="2.0"/><circle cx="681.1" cy="510.0" r="2.2"/><circle cx="577.8" cy="516.9" r="2.3"/><circle cx="591.0" cy="521.8" r="2.0"/><circle cx="606.4" cy="521.1" r="2.2"/><circle cx="624.3" cy="518.8" r="1.9"/><circle cx="644.0" cy="521.9" r="2.2"/><circle cx="658.4" cy="517.9" r="2.0"/><circle cx="676.4" cy="521.4" r="2.0"/><circle cx="578.2" cy="527.8" r="2.2"/><circle cx="589.4" cy="529.9" r="2.1"/><circle cx="608.4" cy="530.2" r="2.3"/><circle cx="625.8" cy="529.6" r="2.3"/><circle cx="642.3" cy="525.8" r="2.0"/><circle cx="655.1" cy="526.9" r="2.3"/><circle cx="676.6" cy="527.4" r="2.2"/><circle cx="569.7" cy="536.5" r="2.2"/><circle cx="586.0" cy="536.9" r="2.1"/><circle cx="598.0" cy="539.3" r="2.3"/><circle cx="617.4" cy="533.1" r="2.4"/><circle cx="633.1" cy="539.1" r="2.4"/><circle cx="648.0" cy="537.7" r="2.2"/><circle cx="668.0" cy="532.8" r="2.2"/><circle cx="566.4" cy="544.1" r="2.0"/><circle cx="582.3" cy="544.7" r="1.9"/><circle cx="603.6" cy="545.5" r="2.5"/><circle cx="615.1" cy="541.8" r="2.0"/><circle cx="634.2" cy="541.4" r="2.3"/><circle cx="648.3" cy="543.0" r="2.2"/><circle cx="664.7" cy="545.5" r="2.4"/><circle cx="681.0" cy="542.8" r="2.2"/><circle cx="578.2" cy="553.1" r="2.2"/><circle cx="591.1" cy="550.0" r="2.4"/><circle cx="606.4" cy="551.6" r="2.3"/><circle cx="626.0" cy="555.1" r="2.2"/><circle cx="645.1" cy="551.4" r="2.3"/><circle cx="660.8" cy="555.1" r="2.3"/><circle cx="671.8" cy="553.1" r="2.3"/><circle cx="575.5" cy="557.6" r="2.1"/><circle cx="592.2" cy="557.7" r="2.3"/><circle cx="610.3" cy="557.3" r="2.5"/><circle cx="627.5" cy="562.4" r="2.3"/><circle cx="645.1" cy="557.6" r="2.0"/><circle cx="656.6" cy="563.2" r="2.2"/><circle cx="671.6" cy="558.8" r="2.1"/><circle cx="581.5" cy="570.5" r="2.0"/><circle cx="608.6" cy="569.9" r="2.4"/><circle cx="630.9" cy="570.0" r="2.1"/><circle cx="657.8" cy="568.2" r="2.1"/><circle cx="676.0" cy="568.8" r="1.9"/><g fill="#9a5cc0"><circle cx="590.2" cy="454.3" r="2.0"/><circle cx="614.9" cy="456.7" r="2.4"/><circle cx="636.8" cy="456.1" r="2.1"/><circle cx="650.5" cy="453.6" r="2.1"/><circle cx="668.7" cy="456.2" r="2.5"/><circle cx="680.4" cy="455.3" r="2.2"/><circle cx="583.8" cy="459.8" r="2.2"/><circle cx="600.0" cy="459.4" r="2.3"/><circle cx="620.3" cy="459.2" r="2.0"/><circle cx="631.4" cy="461.7" r="2.4"/><circle cx="652.5" cy="461.4" r="2.3"/><circle cx="668.0" cy="460.3" r="2.3"/><circle cx="574.4" cy="467.5" r="2.3"/><circle cx="592.3" cy="469.4" r="2.0"/><circle cx="607.7" cy="468.9" r="2.3"/><circle cx="627.8" cy="467.1" r="2.1"/><circle cx="641.7" cy="471.7" r="2.1"/><circle cx="659.9" cy="468.8" r="2.3"/><circle cx="673.7" cy="468.7" r="2.1"/><circle cx="567.4" cy="475.9" r="2.4"/><circle cx="582.4" cy="478.6" r="2.2"/><circle cx="598.4" cy="481.2" r="2.0"/><circle cx="616.5" cy="475.5" r="2.0"/><circle cx="637.1" cy="475.6" r="2.2"/><circle cx="652.8" cy="479.0" r="2.0"/><circle cx="664.1" cy="478.6" r="2.1"/><circle cx="568.2" cy="489.8" r="2.2"/><circle cx="587.2" cy="484.3" r="2.0"/><circle cx="599.5" cy="490.1" r="2.1"/><circle cx="618.9" cy="484.2" r="2.3"/><circle cx="633.2" cy="487.7" r="2.4"/><circle cx="647.4" cy="485.6" r="2.5"/><circle cx="666.2" cy="483.5" r="1.9"/><circle cx="681.2" cy="489.3" r="2.4"/><circle cx="576.2" cy="493.5" r="2.2"/><circle cx="591.8" cy="494.9" r="2.0"/><circle cx="606.9" cy="492.4" r="2.3"/><circle cx="625.6" cy="497.4" r="2.0"/><circle cx="645.1" cy="491.8" r="2.4"/><circle cx="655.2" cy="495.1" r="2.5"/><circle cx="672.9" cy="495.3" r="1.9"/><circle cx="575.8" cy="506.2" r="2.3"/><circle cx="594.9" cy="505.6" r="2.3"/><circle cx="607.4" cy="500.8" r="2.3"/><circle cx="626.3" cy="503.4" r="2.4"/><circle cx="641.9" cy="503.8" r="2.1"/><circle cx="657.2" cy="504.5" r="2.4"/><circle cx="674.6" cy="502.7" r="2.4"/><circle cx="573.4" cy="509.5" r="2.0"/><circle cx="590.7" cy="514.5" r="2.1"/><circle cx="606.4" cy="508.9" r="1.9"/><circle cx="622.2" cy="512.9" r="1.9"/><circle cx="643.0" cy="512.9" r="2.3"/><circle cx="655.2" cy="512.3" r="2.2"/><circle cx="676.1" cy="511.0" r="2.2"/><circle cx="568.5" cy="522.5" r="2.1"/><circle cx="582.2" cy="522.2" r="2.5"/><circle cx="599.6" cy="517.0" r="2.2"/><circle cx="616.7" cy="521.1" r="2.0"/><circle cx="636.4" cy="516.9" r="2.0"/><circle cx="649.6" cy="517.2" r="1.9"/><circle cx="669.3" cy="516.4" r="2.1"/><circle cx="571.2" cy="530.0" r="2.3"/><circle cx="586.7" cy="528.7" r="2.1"/><circle cx="600.4" cy="526.4" r="2.2"/><circle cx="617.7" cy="529.8" r="2.2"/><circle cx="635.4" cy="530.6" r="2.2"/><circle cx="649.6" cy="527.9" r="2.4"/><circle cx="666.2" cy="530.3" r="2.0"/><circle cx="679.8" cy="527.2" r="2.4"/><circle cx="573.1" cy="537.5" r="2.2"/><circle cx="595.3" cy="533.6" r="2.5"/><circle cx="608.7" cy="539.1" r="2.2"/><circle cx="626.5" cy="534.3" r="2.0"/><circle cx="641.7" cy="532.9" r="2.4"/><circle cx="661.5" cy="533.7" r="2.4"/><circle cx="673.3" cy="537.4" r="2.5"/><circle cx="577.8" cy="541.3" r="2.2"/><circle cx="589.4" cy="545.2" r="2.3"/><circle cx="606.6" cy="545.2" r="2.3"/><circle cx="625.7" cy="546.3" r="2.3"/><circle cx="642.0" cy="542.0" r="2.3"/><circle cx="660.0" cy="541.6" r="2.2"/><circle cx="673.1" cy="545.8" r="2.2"/><circle cx="570.2" cy="553.2" r="1.9"/><circle cx="582.7" cy="552.1" r="2.3"/><circle cx="600.5" cy="549.5" r="2.4"/><circle cx="618.4" cy="555.2" r="2.0"/><circle cx="635.2" cy="552.3" r="2.3"/><circle cx="649.0" cy="555.2" r="2.4"/><circle cx="669.6" cy="550.1" r="2.2"/><circle cx="681.4" cy="554.6" r="2.2"/><circle cx="587.8" cy="560.5" r="2.3"/><circle cx="598.9" cy="558.1" r="2.3"/><circle cx="614.0" cy="558.4" r="2.1"/><circle cx="633.2" cy="563.5" r="2.0"/><circle cx="651.8" cy="562.6" r="2.3"/><circle cx="664.5" cy="557.9" r="2.5"/><circle cx="569.0" cy="565.5" r="2.3"/><circle cx="599.5" cy="569.3" r="1.9"/><circle cx="623.5" cy="567.8" r="2.0"/><circle cx="639.8" cy="569.0" r="2.0"/><circle cx="665.9" cy="566.7" r="2.1"/></g></g>
</g>
<g clip-path="url(#cE2)">
<rect x="564" y="577.1" width="121.0" height="122.5" filter="url(#hE2)"/>
<g fill="#8448ac" fill-opacity="0.6" stroke="#fff" stroke-opacity="0.55" stroke-width="1.1" filter="url(#nE2)"><circle cx="572.7" cy="583.6" r="2.3"/><circle cx="602.0" cy="582.9" r="2.8"/><circle cx="640.5" cy="580.1" r="2.8"/><circle cx="663.8" cy="581.9" r="2.7"/><circle cx="567.0" cy="587.9" r="2.4"/><circle cx="580.9" cy="589.9" r="2.5"/><circle cx="593.8" cy="590.4" r="2.8"/><circle cx="610.1" cy="590.0" r="2.9"/><circle cx="627.6" cy="590.6" r="2.4"/><circle cx="636.8" cy="585.2" r="2.8"/><circle cx="654.6" cy="589.1" r="2.5"/><circle cx="669.3" cy="587.2" r="2.5"/><circle cx="681.7" cy="589.8" r="2.8"/><circle cx="575.8" cy="594.2" r="2.5"/><circle cx="592.1" cy="594.1" r="2.8"/><circle cx="604.2" cy="596.3" r="2.5"/><circle cx="619.4" cy="592.7" r="2.8"/><circle cx="630.2" cy="592.7" r="2.5"/><circle cx="649.3" cy="594.5" r="2.8"/><circle cx="662.1" cy="597.1" r="2.7"/><circle cx="674.8" cy="593.5" r="2.6"/><circle cx="576.5" cy="601.3" r="2.8"/><circle cx="587.8" cy="600.1" r="2.5"/><circle cx="604.8" cy="604.0" r="2.4"/><circle cx="619.8" cy="603.6" r="2.6"/><circle cx="634.6" cy="599.6" r="2.6"/><circle cx="647.2" cy="602.3" r="2.6"/><circle cx="660.8" cy="601.8" r="2.9"/><circle cx="672.7" cy="601.3" r="2.8"/><circle cx="568.3" cy="609.3" r="2.3"/><circle cx="581.3" cy="611.3" r="2.5"/><circle cx="599.1" cy="609.2" r="2.6"/><circle cx="609.1" cy="607.8" r="2.8"/><circle cx="626.3" cy="608.4" r="2.8"/><circle cx="642.0" cy="607.2" r="2.8"/><circle cx="656.6" cy="607.4" r="2.7"/><circle cx="671.4" cy="610.4" r="2.8"/><circle cx="568.4" cy="616.1" r="2.8"/><circle cx="581.3" cy="619.6" r="2.5"/><circle cx="594.7" cy="617.7" r="2.4"/><circle cx="612.0" cy="615.2" r="2.4"/><circle cx="623.6" cy="618.5" r="2.9"/><circle cx="642.3" cy="617.1" r="2.6"/><circle cx="654.7" cy="618.6" r="2.3"/><circle cx="667.8" cy="616.8" r="2.7"/><circle cx="576.9" cy="624.7" r="2.6"/><circle cx="586.9" cy="624.7" r="2.3"/><circle cx="602.7" cy="622.1" r="2.5"/><circle cx="617.1" cy="626.6" r="2.8"/><circle cx="630.3" cy="624.4" r="2.8"/><circle cx="646.8" cy="623.2" r="2.4"/><circle cx="663.8" cy="626.0" r="2.7"/><circle cx="673.7" cy="626.5" r="2.8"/><circle cx="569.5" cy="628.7" r="2.5"/><circle cx="581.7" cy="632.6" r="2.5"/><circle cx="599.0" cy="632.1" r="2.7"/><circle cx="613.3" cy="633.8" r="2.4"/><circle cx="625.7" cy="630.7" r="2.4"/><circle cx="640.5" cy="632.1" r="2.8"/><circle cx="651.5" cy="630.1" r="2.4"/><circle cx="669.8" cy="630.9" r="2.9"/><circle cx="681.2" cy="632.2" r="2.6"/><circle cx="576.8" cy="637.5" r="2.3"/><circle cx="586.9" cy="635.7" r="2.9"/><circle cx="600.8" cy="639.7" r="2.7"/><circle cx="619.8" cy="639.2" r="2.8"/><circle cx="632.3" cy="637.2" r="2.6"/><circle cx="649.5" cy="639.6" r="2.5"/><circle cx="661.2" cy="637.1" r="2.5"/><circle cx="674.1" cy="635.7" r="2.4"/><circle cx="567.2" cy="645.7" r="2.5"/><circle cx="583.0" cy="647.5" r="2.5"/><circle cx="599.2" cy="642.9" r="2.8"/><circle cx="613.2" cy="647.3" r="2.5"/><circle cx="627.8" cy="643.3" r="2.7"/><circle cx="641.2" cy="647.6" r="2.3"/><circle cx="651.9" cy="645.6" r="2.8"/><circle cx="665.5" cy="643.1" r="2.5"/><circle cx="570.3" cy="654.1" r="2.9"/><circle cx="579.8" cy="649.7" r="2.5"/><circle cx="596.6" cy="650.5" r="2.4"/><circle cx="608.1" cy="653.2" r="2.8"/><circle cx="623.2" cy="653.6" r="2.9"/><circle cx="636.9" cy="654.8" r="2.6"/><circle cx="654.9" cy="653.3" r="2.3"/><circle cx="667.3" cy="651.1" r="2.4"/><circle cx="566.8" cy="662.5" r="2.5"/><circle cx="582.0" cy="660.9" r="2.4"/><circle cx="594.9" cy="660.3" r="2.3"/><circle cx="608.6" cy="660.8" r="2.6"/><circle cx="626.9" cy="662.5" r="2.8"/><circle cx="638.1" cy="660.7" r="2.7"/><circle cx="652.9" cy="658.3" r="2.8"/><circle cx="669.1" cy="660.6" r="2.5"/><circle cx="570.0" cy="668.8" r="2.3"/><circle cx="584.9" cy="669.2" r="2.4"/><circle cx="598.3" cy="664.5" r="2.4"/><circle cx="608.0" cy="666.0" r="2.8"/><circle cx="627.7" cy="669.1" r="2.3"/><circle cx="639.5" cy="668.2" r="2.8"/><circle cx="656.2" cy="664.5" r="2.3"/><circle cx="665.8" cy="669.7" r="2.9"/><circle cx="682.5" cy="665.2" r="2.4"/><circle cx="577.7" cy="673.4" r="2.4"/><circle cx="587.6" cy="675.1" r="2.5"/><circle cx="605.0" cy="671.9" r="2.5"/><circle cx="616.6" cy="673.9" r="2.7"/><circle cx="630.6" cy="672.1" r="2.5"/><circle cx="649.5" cy="676.0" r="2.5"/><circle cx="660.9" cy="675.0" r="2.7"/><circle cx="678.2" cy="674.2" r="2.8"/><circle cx="570.4" cy="679.2" r="2.6"/><circle cx="580.1" cy="683.5" r="2.7"/><circle cx="593.7" cy="682.9" r="2.6"/><circle cx="610.4" cy="681.7" r="2.4"/><circle cx="623.0" cy="678.6" r="2.9"/><circle cx="638.4" cy="681.7" r="2.6"/><circle cx="654.3" cy="681.8" r="2.5"/><circle cx="668.9" cy="679.6" r="2.6"/><circle cx="569.8" cy="690.3" r="2.5"/><circle cx="583.7" cy="690.4" r="2.9"/><circle cx="594.8" cy="688.0" r="2.6"/><circle cx="613.7" cy="688.0" r="2.5"/><circle cx="622.8" cy="688.9" r="2.3"/><circle cx="640.5" cy="690.1" r="2.5"/><circle cx="656.7" cy="691.6" r="2.8"/><circle cx="668.1" cy="691.1" r="2.4"/><circle cx="680.6" cy="689.8" r="2.4"/><circle cx="583.5" cy="696.3" r="2.7"/><circle cx="610.5" cy="694.5" r="2.4"/><circle cx="627.3" cy="694.5" r="2.7"/><circle cx="638.6" cy="693.3" r="2.4"/><circle cx="656.0" cy="692.9" r="2.5"/><circle cx="669.6" cy="694.5" r="2.7"/><g fill="#9a5cc0"><circle cx="584.3" cy="581.8" r="2.8"/><circle cx="631.6" cy="581.1" r="2.9"/><circle cx="649.8" cy="580.6" r="2.9"/><circle cx="667.1" cy="580.7" r="2.8"/><circle cx="577.5" cy="587.0" r="2.4"/><circle cx="591.6" cy="586.9" r="2.6"/><circle cx="603.4" cy="585.6" r="2.6"/><circle cx="619.5" cy="586.6" r="2.3"/><circle cx="632.4" cy="587.8" r="2.9"/><circle cx="647.2" cy="587.7" r="2.8"/><circle cx="658.7" cy="584.9" r="2.5"/><circle cx="676.3" cy="589.1" r="2.7"/><circle cx="570.0" cy="597.5" r="2.3"/><circle cx="582.1" cy="592.9" r="2.4"/><circle cx="597.5" cy="594.0" r="2.5"/><circle cx="608.1" cy="593.1" r="2.8"/><circle cx="625.7" cy="594.1" r="2.8"/><circle cx="641.0" cy="595.4" r="2.6"/><circle cx="651.0" cy="596.8" r="2.4"/><circle cx="668.9" cy="595.4" r="2.8"/><circle cx="567.4" cy="600.2" r="2.7"/><circle cx="584.9" cy="603.3" r="2.5"/><circle cx="599.4" cy="599.6" r="2.8"/><circle cx="611.7" cy="600.5" r="2.7"/><circle cx="627.5" cy="600.7" r="2.4"/><circle cx="639.1" cy="604.6" r="2.5"/><circle cx="653.8" cy="602.1" r="2.7"/><circle cx="671.3" cy="600.8" r="2.9"/><circle cx="680.8" cy="603.3" r="2.9"/><circle cx="574.5" cy="609.3" r="2.8"/><circle cx="590.0" cy="611.1" r="2.4"/><circle cx="606.5" cy="609.9" r="2.6"/><circle cx="618.0" cy="610.5" r="2.7"/><circle cx="632.1" cy="607.5" r="2.8"/><circle cx="647.9" cy="608.1" r="2.6"/><circle cx="659.6" cy="607.4" r="2.9"/><circle cx="675.0" cy="609.1" r="2.7"/><circle cx="577.0" cy="618.4" r="2.5"/><circle cx="590.2" cy="614.3" r="2.4"/><circle cx="604.5" cy="614.1" r="2.7"/><circle cx="616.5" cy="616.7" r="2.4"/><circle cx="630.3" cy="616.8" r="2.7"/><circle cx="648.4" cy="618.4" r="2.7"/><circle cx="662.8" cy="615.0" r="2.5"/><circle cx="676.1" cy="615.6" r="2.5"/><circle cx="579.4" cy="626.4" r="2.6"/><circle cx="595.7" cy="624.5" r="2.8"/><circle cx="612.7" cy="621.4" r="2.4"/><circle cx="628.0" cy="621.2" r="2.6"/><circle cx="639.5" cy="625.0" r="2.7"/><circle cx="655.3" cy="626.8" r="2.9"/><circle cx="668.4" cy="621.6" r="2.8"/><circle cx="681.5" cy="626.4" r="2.8"/><circle cx="572.7" cy="633.8" r="2.4"/><circle cx="590.0" cy="631.9" r="2.5"/><circle cx="605.0" cy="631.8" r="2.4"/><circle cx="617.2" cy="629.2" r="2.4"/><circle cx="632.3" cy="632.3" r="2.4"/><circle cx="649.8" cy="633.4" r="2.5"/><circle cx="663.3" cy="630.3" r="2.6"/><circle cx="676.6" cy="631.7" r="2.4"/><circle cx="568.1" cy="640.6" r="2.7"/><circle cx="580.7" cy="640.8" r="2.4"/><circle cx="594.6" cy="635.7" r="2.5"/><circle cx="610.3" cy="639.7" r="2.3"/><circle cx="623.0" cy="641.0" r="2.9"/><circle cx="640.9" cy="638.1" r="2.6"/><circle cx="656.5" cy="640.0" r="2.3"/><circle cx="667.6" cy="640.3" r="2.7"/><circle cx="682.0" cy="638.6" r="2.6"/><circle cx="577.5" cy="643.8" r="2.5"/><circle cx="590.0" cy="644.0" r="2.3"/><circle cx="600.8" cy="644.3" r="2.6"/><circle cx="615.0" cy="647.0" r="2.7"/><circle cx="633.1" cy="647.8" r="2.8"/><circle cx="649.7" cy="646.1" r="2.8"/><circle cx="664.0" cy="646.2" r="2.8"/><circle cx="677.9" cy="646.8" r="2.6"/><circle cx="576.5" cy="652.7" r="2.8"/><circle cx="591.9" cy="650.2" r="2.8"/><circle cx="604.9" cy="652.0" r="2.8"/><circle cx="616.4" cy="651.4" r="2.6"/><circle cx="631.3" cy="650.7" r="2.8"/><circle cx="648.6" cy="651.9" r="2.9"/><circle cx="661.7" cy="651.1" r="2.7"/><circle cx="674.1" cy="650.4" r="2.5"/><circle cx="574.4" cy="660.2" r="2.7"/><circle cx="587.5" cy="658.9" r="2.6"/><circle cx="603.1" cy="659.6" r="2.7"/><circle cx="620.6" cy="657.7" r="2.5"/><circle cx="634.8" cy="659.5" r="2.4"/><circle cx="646.3" cy="658.0" r="2.8"/><circle cx="662.9" cy="660.9" r="2.8"/><circle cx="673.6" cy="662.5" r="2.4"/><circle cx="577.1" cy="665.5" r="2.5"/><circle cx="591.3" cy="665.6" r="2.7"/><circle cx="601.3" cy="664.9" r="2.8"/><circle cx="615.1" cy="666.9" r="2.8"/><circle cx="629.6" cy="668.6" r="2.6"/><circle cx="645.5" cy="669.9" r="2.5"/><circle cx="661.8" cy="668.6" r="2.7"/><circle cx="678.0" cy="668.3" r="2.3"/><circle cx="567.5" cy="676.4" r="2.7"/><circle cx="583.8" cy="676.6" r="2.6"/><circle cx="595.8" cy="674.8" r="2.7"/><circle cx="610.9" cy="673.2" r="2.3"/><circle cx="628.1" cy="672.5" r="2.6"/><circle cx="639.1" cy="676.4" r="2.5"/><circle cx="656.3" cy="672.9" r="2.3"/><circle cx="665.5" cy="671.4" r="2.7"/><circle cx="680.8" cy="672.1" r="2.6"/><circle cx="575.9" cy="678.6" r="2.8"/><circle cx="586.5" cy="679.8" r="2.6"/><circle cx="601.4" cy="679.8" r="2.7"/><circle cx="616.6" cy="679.9" r="2.6"/><circle cx="635.2" cy="678.7" r="2.8"/><circle cx="644.3" cy="680.5" r="2.6"/><circle cx="661.3" cy="679.2" r="2.7"/><circle cx="675.6" cy="681.5" r="2.4"/><circle cx="574.9" cy="687.6" r="2.7"/><circle cx="590.8" cy="690.4" r="2.6"/><circle cx="603.5" cy="688.7" r="2.3"/><circle cx="620.1" cy="688.0" r="2.8"/><circle cx="632.4" cy="690.5" r="2.5"/><circle cx="644.9" cy="690.0" r="2.8"/><circle cx="660.4" cy="690.2" r="2.8"/><circle cx="677.1" cy="689.9" r="2.4"/><circle cx="574.1" cy="695.6" r="2.5"/><circle cx="600.9" cy="696.2" r="2.7"/><circle cx="617.1" cy="696.8" r="2.6"/><circle cx="635.3" cy="694.9" r="2.5"/><circle cx="648.5" cy="694.8" r="2.5"/><circle cx="659.3" cy="695.1" r="2.4"/></g></g>
</g>
<g clip-path="url(#cPPT)">
<rect x="564" y="704.4" width="121.0" height="121.6" filter="url(#hPPT)"/>
<g fill="#7a36a0" fill-opacity="0.7" stroke="#fff" stroke-opacity="0.55" stroke-width="1.1" filter="url(#nPPT)"><circle cx="567.7" cy="709.9" r="3.0"/><circle cx="588.5" cy="709.5" r="2.6"/><circle cx="608.2" cy="709.9" r="2.9"/><circle cx="634.7" cy="708.8" r="2.6"/><circle cx="655.9" cy="710.5" r="2.4"/><circle cx="677.3" cy="710.2" r="2.5"/><circle cx="582.3" cy="713.0" r="2.8"/><circle cx="598.9" cy="715.7" r="2.6"/><circle cx="610.6" cy="713.8" r="2.8"/><circle cx="628.1" cy="717.7" r="2.4"/><circle cx="641.0" cy="718.0" r="2.8"/><circle cx="651.9" cy="712.8" r="2.5"/><circle cx="670.9" cy="717.1" r="2.4"/><circle cx="573.2" cy="722.6" r="2.6"/><circle cx="589.1" cy="721.8" r="2.7"/><circle cx="606.4" cy="723.9" r="2.5"/><circle cx="615.1" cy="723.9" r="2.7"/><circle cx="632.9" cy="725.0" r="2.7"/><circle cx="648.3" cy="721.2" r="2.6"/><circle cx="659.3" cy="722.9" r="2.8"/><circle cx="675.6" cy="722.6" r="2.7"/><circle cx="569.6" cy="729.4" r="2.9"/><circle cx="583.2" cy="726.7" r="2.7"/><circle cx="594.0" cy="732.1" r="2.9"/><circle cx="609.1" cy="730.5" r="2.9"/><circle cx="625.4" cy="727.7" r="2.7"/><circle cx="641.5" cy="732.5" r="2.6"/><circle cx="655.6" cy="731.6" r="2.4"/><circle cx="667.4" cy="729.8" r="2.5"/><circle cx="681.3" cy="730.7" r="2.6"/><circle cx="580.8" cy="736.4" r="2.7"/><circle cx="594.3" cy="737.2" r="2.5"/><circle cx="613.1" cy="739.6" r="2.6"/><circle cx="626.9" cy="736.4" r="2.6"/><circle cx="638.3" cy="735.2" r="2.6"/><circle cx="654.0" cy="736.4" r="2.9"/><circle cx="665.8" cy="735.8" r="2.9"/><circle cx="681.6" cy="739.0" r="3.0"/><circle cx="576.7" cy="746.3" r="2.8"/><circle cx="587.5" cy="746.2" r="2.9"/><circle cx="603.0" cy="746.5" r="2.5"/><circle cx="615.3" cy="745.1" r="2.7"/><circle cx="634.8" cy="746.7" r="2.9"/><circle cx="649.1" cy="746.7" r="2.5"/><circle cx="659.4" cy="745.3" r="2.9"/><circle cx="676.5" cy="741.8" r="2.9"/><circle cx="573.2" cy="753.9" r="3.0"/><circle cx="588.6" cy="754.1" r="2.7"/><circle cx="603.4" cy="749.4" r="2.6"/><circle cx="615.5" cy="750.0" r="2.8"/><circle cx="631.0" cy="751.6" r="2.9"/><circle cx="649.3" cy="752.4" r="2.6"/><circle cx="662.8" cy="748.8" r="2.6"/><circle cx="675.6" cy="754.1" r="2.4"/><circle cx="579.6" cy="759.9" r="2.5"/><circle cx="598.7" cy="757.0" r="3.0"/><circle cx="609.6" cy="759.3" r="2.6"/><circle cx="622.2" cy="758.2" r="2.9"/><circle cx="641.2" cy="760.6" r="2.5"/><circle cx="655.4" cy="758.9" r="2.8"/><circle cx="665.6" cy="756.3" r="3.0"/><circle cx="566.9" cy="762.9" r="2.7"/><circle cx="580.4" cy="765.6" r="2.6"/><circle cx="598.4" cy="766.6" r="2.7"/><circle cx="609.0" cy="765.8" r="2.5"/><circle cx="623.4" cy="763.3" r="2.4"/><circle cx="641.6" cy="764.9" r="2.4"/><circle cx="654.8" cy="768.6" r="2.6"/><circle cx="666.4" cy="767.3" r="2.8"/><circle cx="576.1" cy="775.3" r="2.4"/><circle cx="588.6" cy="771.5" r="2.5"/><circle cx="602.6" cy="772.7" r="3.0"/><circle cx="617.7" cy="770.3" r="2.5"/><circle cx="633.8" cy="771.3" r="2.7"/><circle cx="645.4" cy="770.8" r="2.7"/><circle cx="658.4" cy="771.9" r="2.6"/><circle cx="676.1" cy="773.4" r="2.4"/><circle cx="575.0" cy="780.5" r="2.9"/><circle cx="587.9" cy="780.5" r="2.6"/><circle cx="602.6" cy="781.5" r="2.9"/><circle cx="616.4" cy="779.8" r="2.9"/><circle cx="630.7" cy="780.4" r="2.7"/><circle cx="647.6" cy="781.2" r="2.9"/><circle cx="658.4" cy="781.4" r="2.6"/><circle cx="673.9" cy="782.8" r="2.9"/><circle cx="576.9" cy="790.0" r="2.8"/><circle cx="591.1" cy="789.6" r="2.5"/><circle cx="603.4" cy="787.8" r="2.7"/><circle cx="619.7" cy="785.8" r="3.0"/><circle cx="634.2" cy="784.2" r="2.9"/><circle cx="647.7" cy="784.5" r="2.6"/><circle cx="659.7" cy="786.4" r="2.6"/><circle cx="677.1" cy="789.1" r="2.6"/><circle cx="575.4" cy="796.7" r="2.6"/><circle cx="586.5" cy="792.9" r="2.8"/><circle cx="603.9" cy="792.2" r="2.7"/><circle cx="619.6" cy="793.6" r="2.5"/><circle cx="630.7" cy="791.4" r="2.7"/><circle cx="649.7" cy="796.9" r="2.6"/><circle cx="661.4" cy="792.7" r="2.5"/><circle cx="677.8" cy="795.3" r="2.6"/><circle cx="574.8" cy="798.6" r="3.0"/><circle cx="590.3" cy="799.2" r="2.9"/><circle cx="603.0" cy="799.8" r="3.0"/><circle cx="619.9" cy="799.7" r="2.8"/><circle cx="633.9" cy="799.3" r="2.6"/><circle cx="644.6" cy="801.8" r="3.0"/><circle cx="658.7" cy="801.5" r="2.6"/><circle cx="674.6" cy="799.8" r="2.7"/><circle cx="572.9" cy="808.2" r="2.7"/><circle cx="589.4" cy="807.9" r="2.9"/><circle cx="603.0" cy="809.6" r="2.5"/><circle cx="617.1" cy="806.8" r="2.7"/><circle cx="630.5" cy="809.9" r="2.9"/><circle cx="649.6" cy="811.5" r="2.5"/><circle cx="663.9" cy="807.9" r="3.0"/><circle cx="677.0" cy="807.7" r="2.7"/><circle cx="568.8" cy="815.6" r="2.4"/><circle cx="582.5" cy="815.0" r="2.9"/><circle cx="595.6" cy="814.7" r="2.4"/><circle cx="613.4" cy="818.5" r="2.6"/><circle cx="626.8" cy="815.6" r="2.9"/><circle cx="636.7" cy="813.0" r="2.9"/><circle cx="653.0" cy="816.2" r="2.4"/><circle cx="666.4" cy="813.8" r="2.9"/><circle cx="681.8" cy="814.4" r="2.6"/><circle cx="609.4" cy="820.9" r="2.4"/><circle cx="636.9" cy="822.5" r="2.8"/><g fill="#9a5cc0"><circle cx="573.5" cy="709.6" r="2.8"/><circle cx="606.3" cy="707.4" r="3.0"/><circle cx="615.9" cy="709.2" r="2.7"/><circle cx="637.1" cy="710.7" r="2.7"/><circle cx="667.5" cy="710.8" r="2.6"/><circle cx="572.9" cy="715.8" r="2.7"/><circle cx="591.7" cy="714.1" r="2.6"/><circle cx="600.6" cy="716.7" r="2.6"/><circle cx="619.4" cy="714.0" r="2.4"/><circle cx="632.8" cy="716.3" r="2.6"/><circle cx="646.1" cy="713.4" r="2.6"/><circle cx="663.3" cy="715.4" r="2.9"/><circle cx="678.2" cy="712.7" r="2.9"/><circle cx="580.0" cy="721.2" r="2.8"/><circle cx="596.7" cy="722.5" r="2.7"/><circle cx="609.7" cy="720.5" r="2.6"/><circle cx="624.7" cy="724.8" r="2.6"/><circle cx="640.3" cy="721.6" r="3.0"/><circle cx="654.6" cy="722.5" r="2.7"/><circle cx="670.0" cy="722.1" r="2.7"/><circle cx="679.8" cy="721.0" r="3.0"/><circle cx="573.1" cy="728.2" r="2.7"/><circle cx="591.7" cy="730.3" r="3.0"/><circle cx="600.7" cy="729.8" r="2.9"/><circle cx="619.8" cy="729.2" r="2.4"/><circle cx="631.0" cy="728.7" r="2.7"/><circle cx="643.8" cy="731.1" r="2.6"/><circle cx="662.6" cy="728.3" r="2.6"/><circle cx="675.6" cy="728.3" r="2.5"/><circle cx="577.7" cy="738.5" r="2.5"/><circle cx="588.5" cy="736.9" r="2.9"/><circle cx="603.8" cy="735.7" r="2.9"/><circle cx="618.7" cy="734.8" r="2.8"/><circle cx="634.0" cy="738.3" r="2.9"/><circle cx="644.9" cy="733.8" r="2.5"/><circle cx="660.5" cy="734.8" r="3.0"/><circle cx="674.5" cy="739.6" r="2.8"/><circle cx="567.7" cy="741.8" r="2.5"/><circle cx="583.7" cy="745.8" r="2.5"/><circle cx="596.0" cy="742.6" r="2.4"/><circle cx="609.7" cy="741.2" r="2.7"/><circle cx="624.7" cy="742.5" r="2.6"/><circle cx="637.9" cy="742.2" r="2.6"/><circle cx="654.8" cy="743.3" r="2.7"/><circle cx="671.1" cy="743.9" r="2.7"/><circle cx="567.5" cy="753.3" r="2.8"/><circle cx="584.2" cy="751.2" r="2.7"/><circle cx="599.2" cy="749.3" r="2.4"/><circle cx="608.0" cy="748.9" r="2.7"/><circle cx="623.7" cy="750.1" r="2.6"/><circle cx="636.8" cy="751.4" r="2.7"/><circle cx="654.7" cy="753.6" r="3.0"/><circle cx="668.3" cy="750.2" r="2.9"/><circle cx="577.6" cy="755.6" r="2.6"/><circle cx="587.4" cy="760.3" r="2.4"/><circle cx="601.2" cy="756.0" r="2.7"/><circle cx="617.0" cy="755.5" r="2.5"/><circle cx="632.6" cy="757.3" r="2.7"/><circle cx="647.7" cy="757.2" r="3.0"/><circle cx="662.8" cy="755.8" r="2.6"/><circle cx="676.0" cy="756.6" r="2.6"/><circle cx="574.3" cy="767.2" r="2.6"/><circle cx="587.0" cy="767.0" r="2.9"/><circle cx="605.4" cy="763.9" r="2.5"/><circle cx="617.6" cy="767.5" r="2.8"/><circle cx="629.7" cy="764.2" r="2.8"/><circle cx="647.2" cy="768.3" r="2.4"/><circle cx="661.8" cy="767.5" r="2.8"/><circle cx="676.6" cy="766.2" r="2.9"/><circle cx="579.0" cy="772.1" r="2.8"/><circle cx="597.7" cy="773.4" r="3.0"/><circle cx="612.0" cy="771.4" r="2.8"/><circle cx="625.2" cy="771.7" r="2.6"/><circle cx="639.7" cy="769.8" r="2.9"/><circle cx="652.3" cy="770.0" r="2.5"/><circle cx="666.6" cy="770.8" r="2.9"/><circle cx="568.5" cy="779.5" r="2.6"/><circle cx="579.3" cy="777.5" r="2.8"/><circle cx="593.6" cy="782.0" r="2.5"/><circle cx="613.0" cy="782.6" r="2.6"/><circle cx="626.1" cy="780.8" r="2.8"/><circle cx="641.9" cy="778.8" r="2.7"/><circle cx="655.5" cy="777.8" r="3.0"/><circle cx="666.0" cy="779.2" r="2.5"/><circle cx="682.0" cy="780.0" r="2.8"/><circle cx="583.8" cy="786.7" r="2.9"/><circle cx="596.5" cy="784.6" r="2.7"/><circle cx="609.9" cy="785.0" r="2.6"/><circle cx="627.2" cy="785.8" r="2.7"/><circle cx="639.0" cy="788.3" r="2.4"/><circle cx="654.7" cy="788.0" r="2.6"/><circle cx="666.8" cy="785.7" r="2.7"/><circle cx="569.5" cy="795.9" r="2.9"/><circle cx="582.0" cy="794.8" r="2.7"/><circle cx="595.6" cy="795.6" r="2.8"/><circle cx="613.4" cy="793.3" r="2.5"/><circle cx="625.3" cy="796.9" r="2.7"/><circle cx="638.2" cy="797.2" r="2.9"/><circle cx="654.8" cy="794.7" r="2.7"/><circle cx="665.7" cy="795.5" r="2.5"/><circle cx="569.4" cy="800.8" r="2.9"/><circle cx="585.0" cy="801.3" r="2.8"/><circle cx="596.4" cy="802.8" r="2.4"/><circle cx="608.0" cy="798.7" r="2.6"/><circle cx="626.9" cy="802.2" r="2.6"/><circle cx="641.8" cy="799.9" r="2.6"/><circle cx="651.9" cy="801.7" r="2.9"/><circle cx="668.7" cy="804.3" r="3.0"/><circle cx="566.9" cy="811.5" r="2.6"/><circle cx="580.3" cy="810.5" r="2.5"/><circle cx="599.3" cy="808.6" r="2.6"/><circle cx="608.0" cy="807.4" r="2.7"/><circle cx="628.0" cy="811.5" r="2.5"/><circle cx="637.3" cy="808.9" r="2.6"/><circle cx="656.8" cy="806.6" r="2.6"/><circle cx="668.9" cy="809.6" r="3.0"/><circle cx="681.9" cy="807.2" r="2.6"/><circle cx="576.7" cy="817.0" r="3.0"/><circle cx="590.4" cy="816.5" r="2.8"/><circle cx="603.2" cy="816.1" r="2.5"/><circle cx="615.8" cy="813.5" r="2.8"/><circle cx="630.9" cy="815.0" r="2.5"/><circle cx="644.6" cy="813.5" r="2.8"/><circle cx="658.5" cy="815.9" r="3.0"/><circle cx="677.1" cy="816.1" r="2.8"/><circle cx="583.3" cy="821.7" r="2.5"/><circle cx="634.0" cy="821.1" r="2.6"/><circle cx="682.3" cy="821.3" r="2.5"/></g></g>
</g>
<g clip-path="url(#cHFDm)">
<g fill="#f2d8f0" fill-opacity="0.35" filter="url(#foam)">
<ellipse cx="584" cy="231" rx="16" ry="22"/>
<ellipse cx="594" cy="281" rx="14" ry="14"/>
<ellipse cx="634" cy="286" rx="22" ry="16"/>
<ellipse cx="669" cy="294" rx="16" ry="12"/>
<ellipse cx="609" cy="206" rx="10" ry="12"/>
</g>
<g fill="#fdf6fd">
<circle cx="632.0" cy="187.8" r="4.4"/>
<circle cx="653.2" cy="189.5" r="3.9"/>
<circle cx="643.5" cy="196.6" r="3.2"/>
<circle cx="649.3" cy="202.8" r="4.4"/>
<circle cx="671.8" cy="199.3" r="3.9"/>
<circle cx="664.7" cy="192.2" r="2.7"/>
<circle cx="677.0" cy="193.0" r="2.7"/>
<circle cx="624.0" cy="198.4" r="2.7"/>
<circle cx="659.4" cy="209.0" r="2.7"/>
<circle cx="636.4" cy="223.1" r="3.9"/>
<circle cx="648.8" cy="221.3" r="3.5"/>
<circle cx="663.8" cy="224.0" r="5.3"/>
<circle cx="627.6" cy="224.0" r="2.7"/>
<circle cx="657.6" cy="232.8" r="3.5"/>
<circle cx="677.0" cy="231.0" r="3.2"/>
<circle cx="627.6" cy="237.2" r="3.2"/>
<circle cx="638.2" cy="236.4" r="3.5"/>
<circle cx="645.3" cy="228.4" r="2.7"/>
<circle cx="652.3" cy="237.2" r="2.7"/>
<circle cx="670.0" cy="239.0" r="3.2"/>
<circle cx="680.6" cy="238.0" r="2.7"/>
<circle cx="620.5" cy="246.0" r="2.7"/>
<circle cx="632.9" cy="246.0" r="3.2"/>
<circle cx="641.7" cy="254.9" r="5"/>
<circle cx="650.6" cy="253.1" r="2.7"/>
<circle cx="660.3" cy="247.8" r="2.7"/>
<circle cx="670.0" cy="256.7" r="3.5"/>
<circle cx="678.5" cy="254.0" r="4.4"/>
<circle cx="677.0" cy="262.0" r="3.2"/>
<circle cx="650.6" cy="269.0" r="4.4"/>
<circle cx="659.4" cy="269.0" r="3.9"/>
<circle cx="670.0" cy="267.3" r="3.2"/>
<circle cx="673.5" cy="279.6" r="4.4"/>
<circle cx="574.6" cy="265.5" r="3.5"/>
<circle cx="567.5" cy="272.6" r="4.4"/>
<circle cx="571.0" cy="284.0" r="6.2"/>
<circle cx="583.4" cy="272.6" r="3.5"/>
<circle cx="581.7" cy="281.4" r="3.2"/>
<circle cx="592.3" cy="279.6" r="2.7"/>
<circle cx="567.5" cy="295.5" r="3.5"/>
<circle cx="580.8" cy="293.8" r="3.2"/>
<circle cx="590.5" cy="292.0" r="2.7"/>
<circle cx="606.4" cy="292.0" r="3.5"/>
<circle cx="602.0" cy="302.6" r="3.2"/>
<circle cx="615.2" cy="253.1" r="2.7"/>
<circle cx="587.0" cy="226.6" r="2"/>
<circle cx="601.0" cy="211.6" r="2"/>
<circle cx="588.7" cy="200.1" r="2.7"/>
<circle cx="631.1" cy="260.2" r="2.4"/>
<circle cx="678.8" cy="209.0" r="3"/>
<circle cx="680.6" cy="219.6" r="3"/>
<circle cx="567.5" cy="247.8" r="3"/>
<ellipse cx="611.3" cy="228.4" rx="5" ry="7"/>
<circle cx="614.1" cy="207.9" r="1.8"/>
<circle cx="670.3" cy="186.6" r="2.1"/>
<circle cx="671.7" cy="247.9" r="2.1"/>
<circle cx="628.4" cy="214.9" r="1.3"/>
<circle cx="628.8" cy="196.1" r="1.5"/>
<circle cx="664.5" cy="202.3" r="1.6"/>
<circle cx="631.3" cy="207.1" r="2.2"/>
<circle cx="675.1" cy="217.5" r="1.9"/>
<circle cx="640.5" cy="277.5" r="1.7"/>
<circle cx="640.8" cy="207.9" r="2.3"/>
<circle cx="648.7" cy="195.1" r="1.3"/>
<circle cx="661.1" cy="239.7" r="1.5"/>
<circle cx="658.1" cy="197.2" r="1.7"/>
<circle cx="644.7" cy="281.4" r="2.2"/>
<circle cx="677.7" cy="273.1" r="1.5"/>
<circle cx="651.6" cy="212.5" r="2.2"/>
<circle cx="619.1" cy="226.3" r="1.6"/>
<circle cx="683.9" cy="269.6" r="2.3"/>
<circle cx="652.0" cy="257.8" r="1.4"/>
<circle cx="642.2" cy="244.4" r="1.8"/>
<circle cx="617.2" cy="231.8" r="2.3"/>
<circle cx="683.7" cy="193.3" r="1.4"/>
<circle cx="675.3" cy="223.0" r="1.4"/>
<circle cx="679.6" cy="199.4" r="1.3"/>
<circle cx="642.5" cy="213.7" r="1.2"/>
<circle cx="667.5" cy="249.7" r="1.5"/>
<circle cx="612.7" cy="193.5" r="2.2"/>
<circle cx="634.2" cy="275.9" r="2.1"/>
<circle cx="613.8" cy="259.7" r="1.6"/>
<circle cx="670.4" cy="212.7" r="2.1"/>
<circle cx="634.0" cy="265.5" r="1.5"/>
<circle cx="650.6" cy="279.9" r="1.3"/>
<circle cx="634.6" cy="270.8" r="2.0"/>
<circle cx="633.6" cy="216.9" r="1.6"/>
<circle cx="646.1" cy="276.1" r="2.1"/>
<circle cx="683.1" cy="245.5" r="2.2"/>
<circle cx="622.0" cy="209.1" r="2.0"/>
<circle cx="651.1" cy="227.6" r="1.4"/>
<circle cx="639.4" cy="186.6" r="1.6"/>
<circle cx="643.4" cy="188.9" r="1.6"/>
<circle cx="613.9" cy="225.4" r="1.8"/>
<circle cx="650.8" cy="286.0" r="1.6"/>
<circle cx="666.3" cy="281.0" r="1.4"/>
<circle cx="613.5" cy="201.2" r="1.3"/>
<circle cx="662.4" cy="262.7" r="1.4"/>
<circle cx="655.7" cy="260.8" r="1.3"/>
<circle cx="613.8" cy="217.2" r="1.9"/>
<circle cx="681.0" cy="225.7" r="2.0"/>
<circle cx="619.3" cy="263.2" r="2.1"/>
<circle cx="664.6" cy="212.8" r="2.1"/>
<circle cx="618.2" cy="258.0" r="1.7"/>
<circle cx="628.0" cy="255.2" r="1.5"/>
<circle cx="650.6" cy="262.2" r="1.4"/>
<circle cx="619.2" cy="205.4" r="1.5"/>
<circle cx="624.9" cy="187.4" r="1.8"/>
<circle cx="671.2" cy="226.1" r="1.3"/>
<circle cx="623.3" cy="203.4" r="1.3"/>
<circle cx="612.2" cy="231.1" r="1.9"/>
<circle cx="659.6" cy="279.4" r="1.7"/>
<circle cx="671.5" cy="193.1" r="1.4"/>
<circle cx="632.8" cy="198.4" r="2.0"/>
<circle cx="643.1" cy="218.2" r="1.5"/>
<circle cx="666.5" cy="233.1" r="1.9"/>
<circle cx="651.6" cy="231.5" r="1.5"/>
<circle cx="635.3" cy="283.0" r="1.6"/>
<circle cx="666.7" cy="206.4" r="1.8"/>
<circle cx="629.2" cy="201.8" r="1.8"/>
<circle cx="666.7" cy="273.2" r="1.2"/>
<circle cx="683.8" cy="260.7" r="1.7"/>
<circle cx="615.3" cy="265.6" r="1.5"/>
</g>
</g>
<g fill="#fbf4fb">
<path d="M434,117 L446,121.5 L434,126 Z"/>
<path d="M514,172 L516.5,180 L512,180 Z"/>
<path d="M633,73 C636,72 640,74 640.5,78 C641,82 639,86 636,85.5 C633,85 632,80 633,73 Z"/>
<path d="M655,455 C662,451.5 675,451.5 685,452 L685,459.5 C675,460 663,459.5 656,458.5 C654,458 653.5,456 655,455 Z" fill-opacity="0.85"/>
<circle cx="680.6" cy="341.8" r="2.6"/>
<circle cx="668.2" cy="350.7" r="2.4"/>
<circle cx="656.8" cy="359.5" r="2.6"/>
<circle cx="654.1" cy="367.5" r="2.4"/>
<circle cx="647.9" cy="369.2" r="2.2"/>
<circle cx="662.9" cy="376.3" r="2.0"/>
<circle cx="676.2" cy="395.70000000000005" r="2.6"/>
<circle cx="681.5" cy="419.6" r="2.4"/>
<circle cx="671.8" cy="425.8" r="2"/>
<circle cx="567" cy="528" r="2.2"/>
<circle cx="594" cy="532" r="2.4"/>
<circle cx="570" cy="550" r="2.0"/>
<circle cx="660" cy="462" r="1.8"/>
<circle cx="574" cy="581.1" r="2.2"/>
<circle cx="602" cy="672.1" r="2.6"/>
<circle cx="584" cy="649.1" r="1.8"/>
<circle cx="676" cy="687.1" r="2"/>
<circle cx="569" cy="724.4" r="2.6"/>
<circle cx="672" cy="819.4" r="2.2"/>
<circle cx="609" cy="799.4" r="1.8"/>
</g>
<rect x="437" y="173" width="19.5" height="3" fill="#000"/>
<text x="429.2" y="119.9" font-size="16" text-anchor="middle" fill="#000" transform="rotate(-90 429.2 119.9)">CD</text>
<text x="429.1" y="247.3" font-size="16" text-anchor="middle" fill="#000" transform="rotate(-90 429.1 247.3)">HFD</text>
<text x="555.8" y="384.8" font-size="16" text-anchor="middle" fill="#000" transform="rotate(-90 555.8 384.8)">DPN</text>
<text x="555.8" y="511.4" font-size="16" text-anchor="middle" fill="#000" transform="rotate(-90 555.8 511.4)">DIP</text>
<text x="555.8" y="638.4" font-size="16" text-anchor="middle" fill="#000" transform="rotate(-90 555.8 638.4)">E2</text>
<text x="555.8" y="765.2" font-size="16" text-anchor="middle" fill="#000" transform="rotate(-90 555.8 765.2)">PPT</text>
<rect x="62" y="251.6" width="306.1" height="212.6" fill="none" stroke="#111" stroke-width="1.3"/>
<line x1="58" y1="289.4" x2="62" y2="289.4" stroke="#111" stroke-width="1.2"/>
<text x="55.3" y="293.4" font-size="11.3" text-anchor="end" fill="#222" >10</text>
<line x1="58" y1="349.7" x2="62" y2="349.7" stroke="#111" stroke-width="1.2"/>
<text x="55.3" y="353.7" font-size="11.3" text-anchor="end" fill="#222" >0</text>
<line x1="58" y1="410" x2="62" y2="410" stroke="#111" stroke-width="1.2"/>
<text x="55.3" y="414.0" font-size="11.3" text-anchor="end" fill="#222" >-10</text>
<line x1="68.7" y1="464.2" x2="68.7" y2="468" stroke="#111" stroke-width="1.2"/>
<text x="68.7" y="480.5" font-size="11.3" text-anchor="middle" fill="#222" >-40</text>
<line x1="160.5" y1="464.2" x2="160.5" y2="468" stroke="#111" stroke-width="1.2"/>
<text x="160.5" y="480.5" font-size="11.3" text-anchor="middle" fill="#222" >-20</text>
<line x1="252.2" y1="464.2" x2="252.2" y2="468" stroke="#111" stroke-width="1.2"/>
<text x="252.2" y="480.5" font-size="11.3" text-anchor="middle" fill="#222" >0</text>
<line x1="344.1" y1="464.2" x2="344.1" y2="468" stroke="#111" stroke-width="1.2"/>
<text x="344.1" y="480.5" font-size="11.3" text-anchor="middle" fill="#222" >20</text>
<text x="215.5" y="492.7" font-size="12.8" text-anchor="middle" fill="#222" >PC1 (59%)</text>
<text x="26.9" y="358.5" font-size="12.9" text-anchor="middle" fill="#222" transform="rotate(-90 26.9 358.5)">PC2 (10%)</text>
<ellipse cx="99.7" cy="297.1" rx="29.6" ry="16.9" transform="rotate(30.3 99.7 297.1)" fill="none" stroke="#4fb3a5" stroke-width="1.3"/>
<ellipse cx="122.5" cy="370.0" rx="32.7" ry="18.5" transform="rotate(35.4 122.5 370.0)" fill="none" stroke="#2a8a4b" stroke-width="1.3"/>
<ellipse cx="311.2" cy="284.1" rx="22.7" ry="15.1" transform="rotate(80.4 311.2 284.1)" fill="none" stroke="#8fd0f0" stroke-width="1.3"/>
<ellipse cx="313.5" cy="355.2" rx="58.0" ry="27.0" transform="rotate(-61.7 313.5 355.2)" fill="none" stroke="#b64bae" stroke-width="1.3"/>
<ellipse cx="242.2" cy="428.8" rx="40.1" ry="22.6" transform="rotate(-26.5 242.2 428.8)" fill="none" stroke="#3b2f9a" stroke-width="1.3"/>
<circle cx="87.4" cy="289.2" r="4.85" fill="#50b3a0" stroke="#1a1a1a" stroke-width="1"/>
<circle cx="92.7" cy="303.2" r="4.85" fill="#50b3a0" stroke="#1a1a1a" stroke-width="1"/>
<circle cx="90.9" cy="301.2" r="4.85" fill="#50b3a0" stroke="#1a1a1a" stroke-width="1"/>
<circle cx="116.8" cy="303.2" r="4.85" fill="#50b3a0" stroke="#1a1a1a" stroke-width="1"/>
<circle cx="116.3" cy="355.3" r="4.85" fill="#258446" stroke="#1a1a1a" stroke-width="1"/>
<circle cx="104.3" cy="366.4" r="4.85" fill="#258446" stroke="#1a1a1a" stroke-width="1"/>
<circle cx="128.2" cy="370.9" r="4.85" fill="#258446" stroke="#1a1a1a" stroke-width="1"/>
<circle cx="142.2" cy="382.6" r="4.85" fill="#258446" stroke="#1a1a1a" stroke-width="1"/>
<circle cx="312" cy="269.2" r="4.85" fill="#8fd1f0" stroke="#1a1a1a" stroke-width="1"/>
<circle cx="302.4" cy="274.9" r="4.85" fill="#8fd1f0" stroke="#1a1a1a" stroke-width="1"/>
<circle cx="313.6" cy="282.2" r="4.85" fill="#8fd1f0" stroke="#1a1a1a" stroke-width="1"/>
<circle cx="312.9" cy="299.9" r="4.85" fill="#8fd1f0" stroke="#1a1a1a" stroke-width="1"/>
<circle cx="263.3" cy="409.6" r="4.85" fill="#3f3598" stroke="#1a1a1a" stroke-width="1"/>
<circle cx="267.4" cy="426" r="4.85" fill="#3f3598" stroke="#1a1a1a" stroke-width="1"/>
<circle cx="216.8" cy="431.4" r="4.85" fill="#3f3598" stroke="#1a1a1a" stroke-width="1"/>
<circle cx="229.2" cy="446.9" r="4.85" fill="#3f3598" stroke="#1a1a1a" stroke-width="1"/>
<circle cx="255" cy="431.6" r="4.85" fill="#902f61" stroke="#1a1a1a" stroke-width="1"/>
<circle cx="315.5" cy="343.8" r="4.85" fill="#e4d07f" stroke="#1a1a1a" stroke-width="1"/>
<circle cx="323.5" cy="343.2" r="4.85" fill="#e4d07f" stroke="#1a1a1a" stroke-width="1"/>
<circle cx="314.5" cy="334" r="4.85" fill="#e4d07f" stroke="#1a1a1a" stroke-width="1"/>
<circle cx="342.7" cy="325.2" r="4.85" fill="#e4d07f" stroke="#1a1a1a" stroke-width="1"/>
<circle cx="322.2" cy="329.5" r="4.85" fill="#d6707f" stroke="#1a1a1a" stroke-width="1"/>
<circle cx="304.7" cy="333.4" r="4.85" fill="#902f61" stroke="#1a1a1a" stroke-width="1"/>
<circle cx="317.3" cy="342.3" r="4.85" fill="#b551aa" stroke="#1a1a1a" stroke-width="1"/>
<circle cx="316.1" cy="351.2" r="4.85" fill="#d6707f" stroke="#1a1a1a" stroke-width="1"/>
<circle cx="319.2" cy="355.7" r="4.85" fill="#902f61" stroke="#1a1a1a" stroke-width="1"/>
<circle cx="306.6" cy="362.5" r="4.85" fill="#b551aa" stroke="#1a1a1a" stroke-width="1"/>
<circle cx="313.5" cy="361" r="4.85" fill="#902f61" stroke="#1a1a1a" stroke-width="1"/>
<circle cx="297.2" cy="366.2" r="4.85" fill="#d6707f" stroke="#1a1a1a" stroke-width="1"/>
<circle cx="311.8" cy="384.1" r="4.85" fill="#b551aa" stroke="#1a1a1a" stroke-width="1"/>
<circle cx="289.4" cy="397.2" r="4.85" fill="#d6707f" stroke="#1a1a1a" stroke-width="1"/>
<circle cx="327.8" cy="310.2" r="4.85" fill="#b551aa" stroke="#1a1a1a" stroke-width="1"/>
<circle cx="401.1" cy="333.4" r="5.3" fill="#50b3a0" stroke="#1e1e1e" stroke-width="1"/>
<text x="414.1" y="337.29999999999995" font-size="12.7" text-anchor="start" fill="#1a1a1a" >CDf</text>
<circle cx="401.1" cy="350" r="5.3" fill="#258446" stroke="#1e1e1e" stroke-width="1"/>
<text x="414.1" y="353.9" font-size="12.7" text-anchor="start" fill="#1a1a1a" >HFDf</text>
<circle cx="401.1" cy="366.8" r="5.3" fill="#8fd1f0" stroke="#1e1e1e" stroke-width="1"/>
<text x="414.1" y="370.7" font-size="12.7" text-anchor="start" fill="#1a1a1a" >CDm</text>
<circle cx="401.1" cy="383.4" r="5.3" fill="#3f3598" stroke="#1e1e1e" stroke-width="1"/>
<text x="414.1" y="387.29999999999995" font-size="12.7" text-anchor="start" fill="#1a1a1a" >HFDm</text>
<circle cx="401.1" cy="410.2" r="5.3" fill="#e4d07f" stroke="#1e1e1e" stroke-width="1"/>
<text x="414.1" y="414.09999999999997" font-size="12.7" text-anchor="start" fill="#1a1a1a" >DPN</text>
<circle cx="401.1" cy="426.8" r="5.3" fill="#d6707f" stroke="#1e1e1e" stroke-width="1"/>
<text x="414.1" y="430.7" font-size="12.7" text-anchor="start" fill="#1a1a1a" >DIP</text>
<circle cx="401.1" cy="443.2" r="5.3" fill="#b551aa" stroke="#1e1e1e" stroke-width="1"/>
<text x="414.1" y="447.09999999999997" font-size="12.7" text-anchor="start" fill="#1a1a1a" >E2</text>
<circle cx="401.1" cy="460.2" r="5.3" fill="#902f61" stroke="#1e1e1e" stroke-width="1"/>
<text x="414.1" y="464.09999999999997" font-size="12.7" text-anchor="start" fill="#1a1a1a" >PPT</text>
<rect x="105.5" y="558.8" width="255.7" height="60.0" fill="#c0a6b6"/>
<rect x="389.6" y="558.8" width="89.6" height="60.0" fill="#c0a6b6"/>
<rect x="105.5" y="618.8" width="255.7" height="61.2" fill="#eed38c"/>
<rect x="389.6" y="618.8" width="89.6" height="61.2" fill="#eed38c"/>
<rect x="105.5" y="680" width="255.7" height="122.5" fill="#b8bdd5"/>
<rect x="389.6" y="680" width="89.6" height="122.5" fill="#b8bdd5"/>
<rect x="134.5" y="567.3" width="99.0" height="22.8" fill="#2a68b0" stroke="#111" stroke-width="1.3"/>
<rect x="233.5" y="567.3" width="101.3" height="22.8" fill="#b31b2c" stroke="#111" stroke-width="1.3"/>
<text x="141.20000000000002" y="584.0999999999999" font-size="12.5" text-anchor="start" fill="#fff" >424</text>
<text x="332.2" y="584.0999999999999" font-size="12.5" text-anchor="end" fill="#fff" >434</text>
<line x1="101.6" y1="578.6999999999999" x2="105.5" y2="578.6999999999999" stroke="#111" stroke-width="1.1"/>
<text x="96.9" y="581.9" font-size="13" text-anchor="end" fill="#1a1a1a">CDf <tspan font-style="italic">vs</tspan> CDm</text>
<rect x="174.2" y="595.1" width="59.3" height="22.8" fill="#2a68b0" stroke="#111" stroke-width="1.3"/>
<rect x="233.5" y="595.1" width="54.4" height="22.8" fill="#b31b2c" stroke="#111" stroke-width="1.3"/>
<text x="179.8" y="611.9" font-size="12.5" text-anchor="start" fill="#fff" >254</text>
<text x="284.9" y="611.9" font-size="12.5" text-anchor="end" fill="#fff" >233</text>
<line x1="101.6" y1="606.5" x2="105.5" y2="606.5" stroke="#111" stroke-width="1.1"/>
<text x="96.9" y="609.7" font-size="13" text-anchor="end" fill="#1a1a1a">HFDf <tspan font-style="italic">vs</tspan> HFDm</text>
<rect x="188.0" y="622.8" width="45.5" height="22.8" fill="#2a68b0" stroke="#111" stroke-width="1.3"/>
<rect x="233.5" y="622.8" width="30.8" height="22.8" fill="#b31b2c" stroke="#111" stroke-width="1.3"/>
<text x="192.4" y="639.5999999999999" font-size="12.5" text-anchor="start" fill="#fff" >195</text>
<text x="262.0" y="639.5999999999999" font-size="12.5" text-anchor="end" fill="#fff" >132</text>
<line x1="101.6" y1="634.1999999999999" x2="105.5" y2="634.1999999999999" stroke="#111" stroke-width="1.1"/>
<text x="96.9" y="637.4" font-size="13" text-anchor="end" fill="#1a1a1a">CDf <tspan font-style="italic">vs</tspan> HFDf</text>
<rect x="139.2" y="650.7" width="94.3" height="22.8" fill="#2a68b0" stroke="#111" stroke-width="1.3"/>
<rect x="233.5" y="650.7" width="72.4" height="22.8" fill="#b31b2c" stroke="#111" stroke-width="1.3"/>
<text x="145.10000000000002" y="667.5" font-size="12.5" text-anchor="start" fill="#fff" >404</text>
<text x="303.4" y="667.5" font-size="12.5" text-anchor="end" fill="#fff" >310</text>
<line x1="101.6" y1="662.1" x2="105.5" y2="662.1" stroke="#111" stroke-width="1.1"/>
<text x="96.9" y="665.3000000000001" font-size="13" text-anchor="end" fill="#1a1a1a">CDm <tspan font-style="italic">vs</tspan> HFDm</text>
<rect x="134.1" y="688.5" width="99.4" height="22.8" fill="#2a68b0" stroke="#111" stroke-width="1.3"/>
<rect x="233.5" y="688.5" width="40.1" height="22.8" fill="#b31b2c" stroke="#111" stroke-width="1.3"/>
<text x="139.20000000000002" y="705.3" font-size="12.5" text-anchor="start" fill="#fff" >426</text>
<text x="269.9" y="705.3" font-size="12.5" text-anchor="end" fill="#fff" >172</text>
<line x1="101.6" y1="699.9" x2="105.5" y2="699.9" stroke="#111" stroke-width="1.1"/>
<text x="96.9" y="703.1" font-size="13" text-anchor="end" fill="#1a1a1a">DPN <tspan font-style="italic">vs</tspan> HFDm</text>
<rect x="215.1" y="716.3" width="18.4" height="22.8" fill="#2a68b0" stroke="#111" stroke-width="1.3"/>
<rect x="233.5" y="716.3" width="19.6" height="22.8" fill="#b31b2c" stroke="#111" stroke-width="1.3"/>
<text x="219.20000000000002" y="733.0999999999999" font-size="12.5" text-anchor="start" fill="#fff" >79</text>
<text x="251.4" y="733.0999999999999" font-size="12.5" text-anchor="end" fill="#fff" >84</text>
<line x1="101.6" y1="727.6999999999999" x2="105.5" y2="727.6999999999999" stroke="#111" stroke-width="1.1"/>
<text x="96.9" y="730.9" font-size="13" text-anchor="end" fill="#1a1a1a">DIP <tspan font-style="italic">vs</tspan> HFDm</text>
<rect x="166.5" y="744" width="67.0" height="22.8" fill="#2a68b0" stroke="#111" stroke-width="1.3"/>
<rect x="233.5" y="744" width="52.0" height="22.8" fill="#b31b2c" stroke="#111" stroke-width="1.3"/>
<text x="172.70000000000002" y="760.8" font-size="12.5" text-anchor="start" fill="#fff" >287</text>
<text x="281.7" y="760.8" font-size="12.5" text-anchor="end" fill="#fff" >223</text>
<line x1="101.6" y1="755.4" x2="105.5" y2="755.4" stroke="#111" stroke-width="1.1"/>
<text x="96.9" y="758.6" font-size="13" text-anchor="end" fill="#1a1a1a">E2 <tspan font-style="italic">vs</tspan> HFDm</text>
<rect x="152.3" y="771.6" width="81.2" height="22.8" fill="#2a68b0" stroke="#111" stroke-width="1.3"/>
<rect x="233.5" y="771.6" width="75.2" height="22.8" fill="#b31b2c" stroke="#111" stroke-width="1.3"/>
<text x="158.9" y="788.4" font-size="12.5" text-anchor="start" fill="#fff" >348</text>
<text x="305.4" y="788.4" font-size="12.5" text-anchor="end" fill="#fff" >322</text>
<line x1="101.6" y1="783.0" x2="105.5" y2="783.0" stroke="#111" stroke-width="1.1"/>
<text x="96.9" y="786.2" font-size="13" text-anchor="end" fill="#1a1a1a">PPT <tspan font-style="italic">vs</tspan> HFDm</text>
<line x1="233.5" y1="558.8" x2="233.5" y2="802.5" stroke="#000" stroke-width="1.2"/>
<rect x="105.5" y="558.8" width="255.7" height="243.7" fill="none" stroke="#111" stroke-width="1.2"/>
<line x1="116.8" y1="802.5" x2="116.8" y2="806.5" stroke="#111" stroke-width="1.1"/>
<text x="116.8" y="819.2" font-size="11.8" text-anchor="middle" fill="#222" >500</text>
<line x1="175.2" y1="802.5" x2="175.2" y2="806.5" stroke="#111" stroke-width="1.1"/>
<text x="175.2" y="819.2" font-size="11.8" text-anchor="middle" fill="#222" >250</text>
<line x1="233.5" y1="802.5" x2="233.5" y2="806.5" stroke="#111" stroke-width="1.1"/>
<text x="233.5" y="819.2" font-size="11.8" text-anchor="middle" fill="#222" >0</text>
<line x1="291.8" y1="802.5" x2="291.8" y2="806.5" stroke="#111" stroke-width="1.1"/>
<text x="291.8" y="819.2" font-size="11.8" text-anchor="middle" fill="#222" >250</text>
<line x1="350.2" y1="802.5" x2="350.2" y2="806.5" stroke="#111" stroke-width="1.1"/>
<text x="350.2" y="819.2" font-size="11.8" text-anchor="middle" fill="#222" >500</text>
<text x="231" y="836.2" font-size="13" text-anchor="middle" fill="#1a1a1a" ># of DEGs</text>
<rect x="157.4" y="539.3" width="12.2" height="11.4" fill="#2a68b0" stroke="#222" stroke-width="0.8"/>
<text x="174.1" y="549.3" font-size="12.9" text-anchor="start" fill="#1a1a1a" >Down</text>
<rect x="277.1" y="539.3" width="11.4" height="11.4" fill="#b31b2c" stroke="#222" stroke-width="0.8"/>
<text x="293.3" y="549.3" font-size="12.9" text-anchor="start" fill="#1a1a1a" >Up</text>
<text x="336" y="575" font-size="12.6" text-anchor="start" fill="#1a1a1a" >Sex</text>
<text x="335.5" y="635.5" font-size="12.6" text-anchor="start" fill="#1a1a1a" >Diet</text>
<text x="295.6" y="695.5" font-size="13.2" text-anchor="start" fill="#1a1a1a" >Treatment</text>
<line x1="403.8" y1="567.5" x2="403.8" y2="792.7" stroke="#e8212b" stroke-width="2.2" stroke-dasharray="10 9.6"/>
<polyline points="467.2,578.5 418.1,606.3 420.3,634.4 449,661.9 455.8,699.5 439.8,727 437.2,755.4 434.6,782.9" fill="none" stroke="#000" stroke-width="2.8" stroke-linejoin="round"/>
<circle cx="467.2" cy="578.5" r="3.9" fill="#fff" stroke="#000" stroke-width="1.9"/>
<circle cx="418.1" cy="606.3" r="3.9" fill="#fff" stroke="#000" stroke-width="1.9"/>
<circle cx="420.3" cy="634.4" r="3.9" fill="#fff" stroke="#000" stroke-width="1.9"/>
<circle cx="449" cy="661.9" r="3.9" fill="#fff" stroke="#000" stroke-width="1.9"/>
<circle cx="455.8" cy="699.5" r="3.9" fill="#fff" stroke="#000" stroke-width="1.9"/>
<circle cx="439.8" cy="727" r="3.9" fill="#fff" stroke="#000" stroke-width="1.9"/>
<circle cx="437.2" cy="755.4" r="3.9" fill="#fff" stroke="#000" stroke-width="1.9"/>
<circle cx="434.6" cy="782.9" r="3.9" fill="#fff" stroke="#000" stroke-width="1.9"/>
<rect x="389.6" y="558.8" width="89.6" height="243.7" fill="none" stroke="#111" stroke-width="1.2"/>
<line x1="403.8" y1="802.5" x2="403.8" y2="806.5" stroke="#111" stroke-width="1.1"/>
<text x="403.8" y="819.2" font-size="11.8" text-anchor="middle" fill="#222" >1</text>
<line x1="439.9" y1="802.5" x2="439.9" y2="806.5" stroke="#111" stroke-width="1.1"/>
<text x="439.9" y="819.2" font-size="11.8" text-anchor="middle" fill="#222" >2</text>
<line x1="476.0" y1="802.5" x2="476.0" y2="806.5" stroke="#111" stroke-width="1.1"/>
<text x="476.0" y="819.2" font-size="11.8" text-anchor="middle" fill="#222" >3</text>
<text x="437.7" y="836.5" font-size="12.8" text-anchor="middle" fill="#1a1a1a" >tSNR</text>
</svg>
</body></html>
